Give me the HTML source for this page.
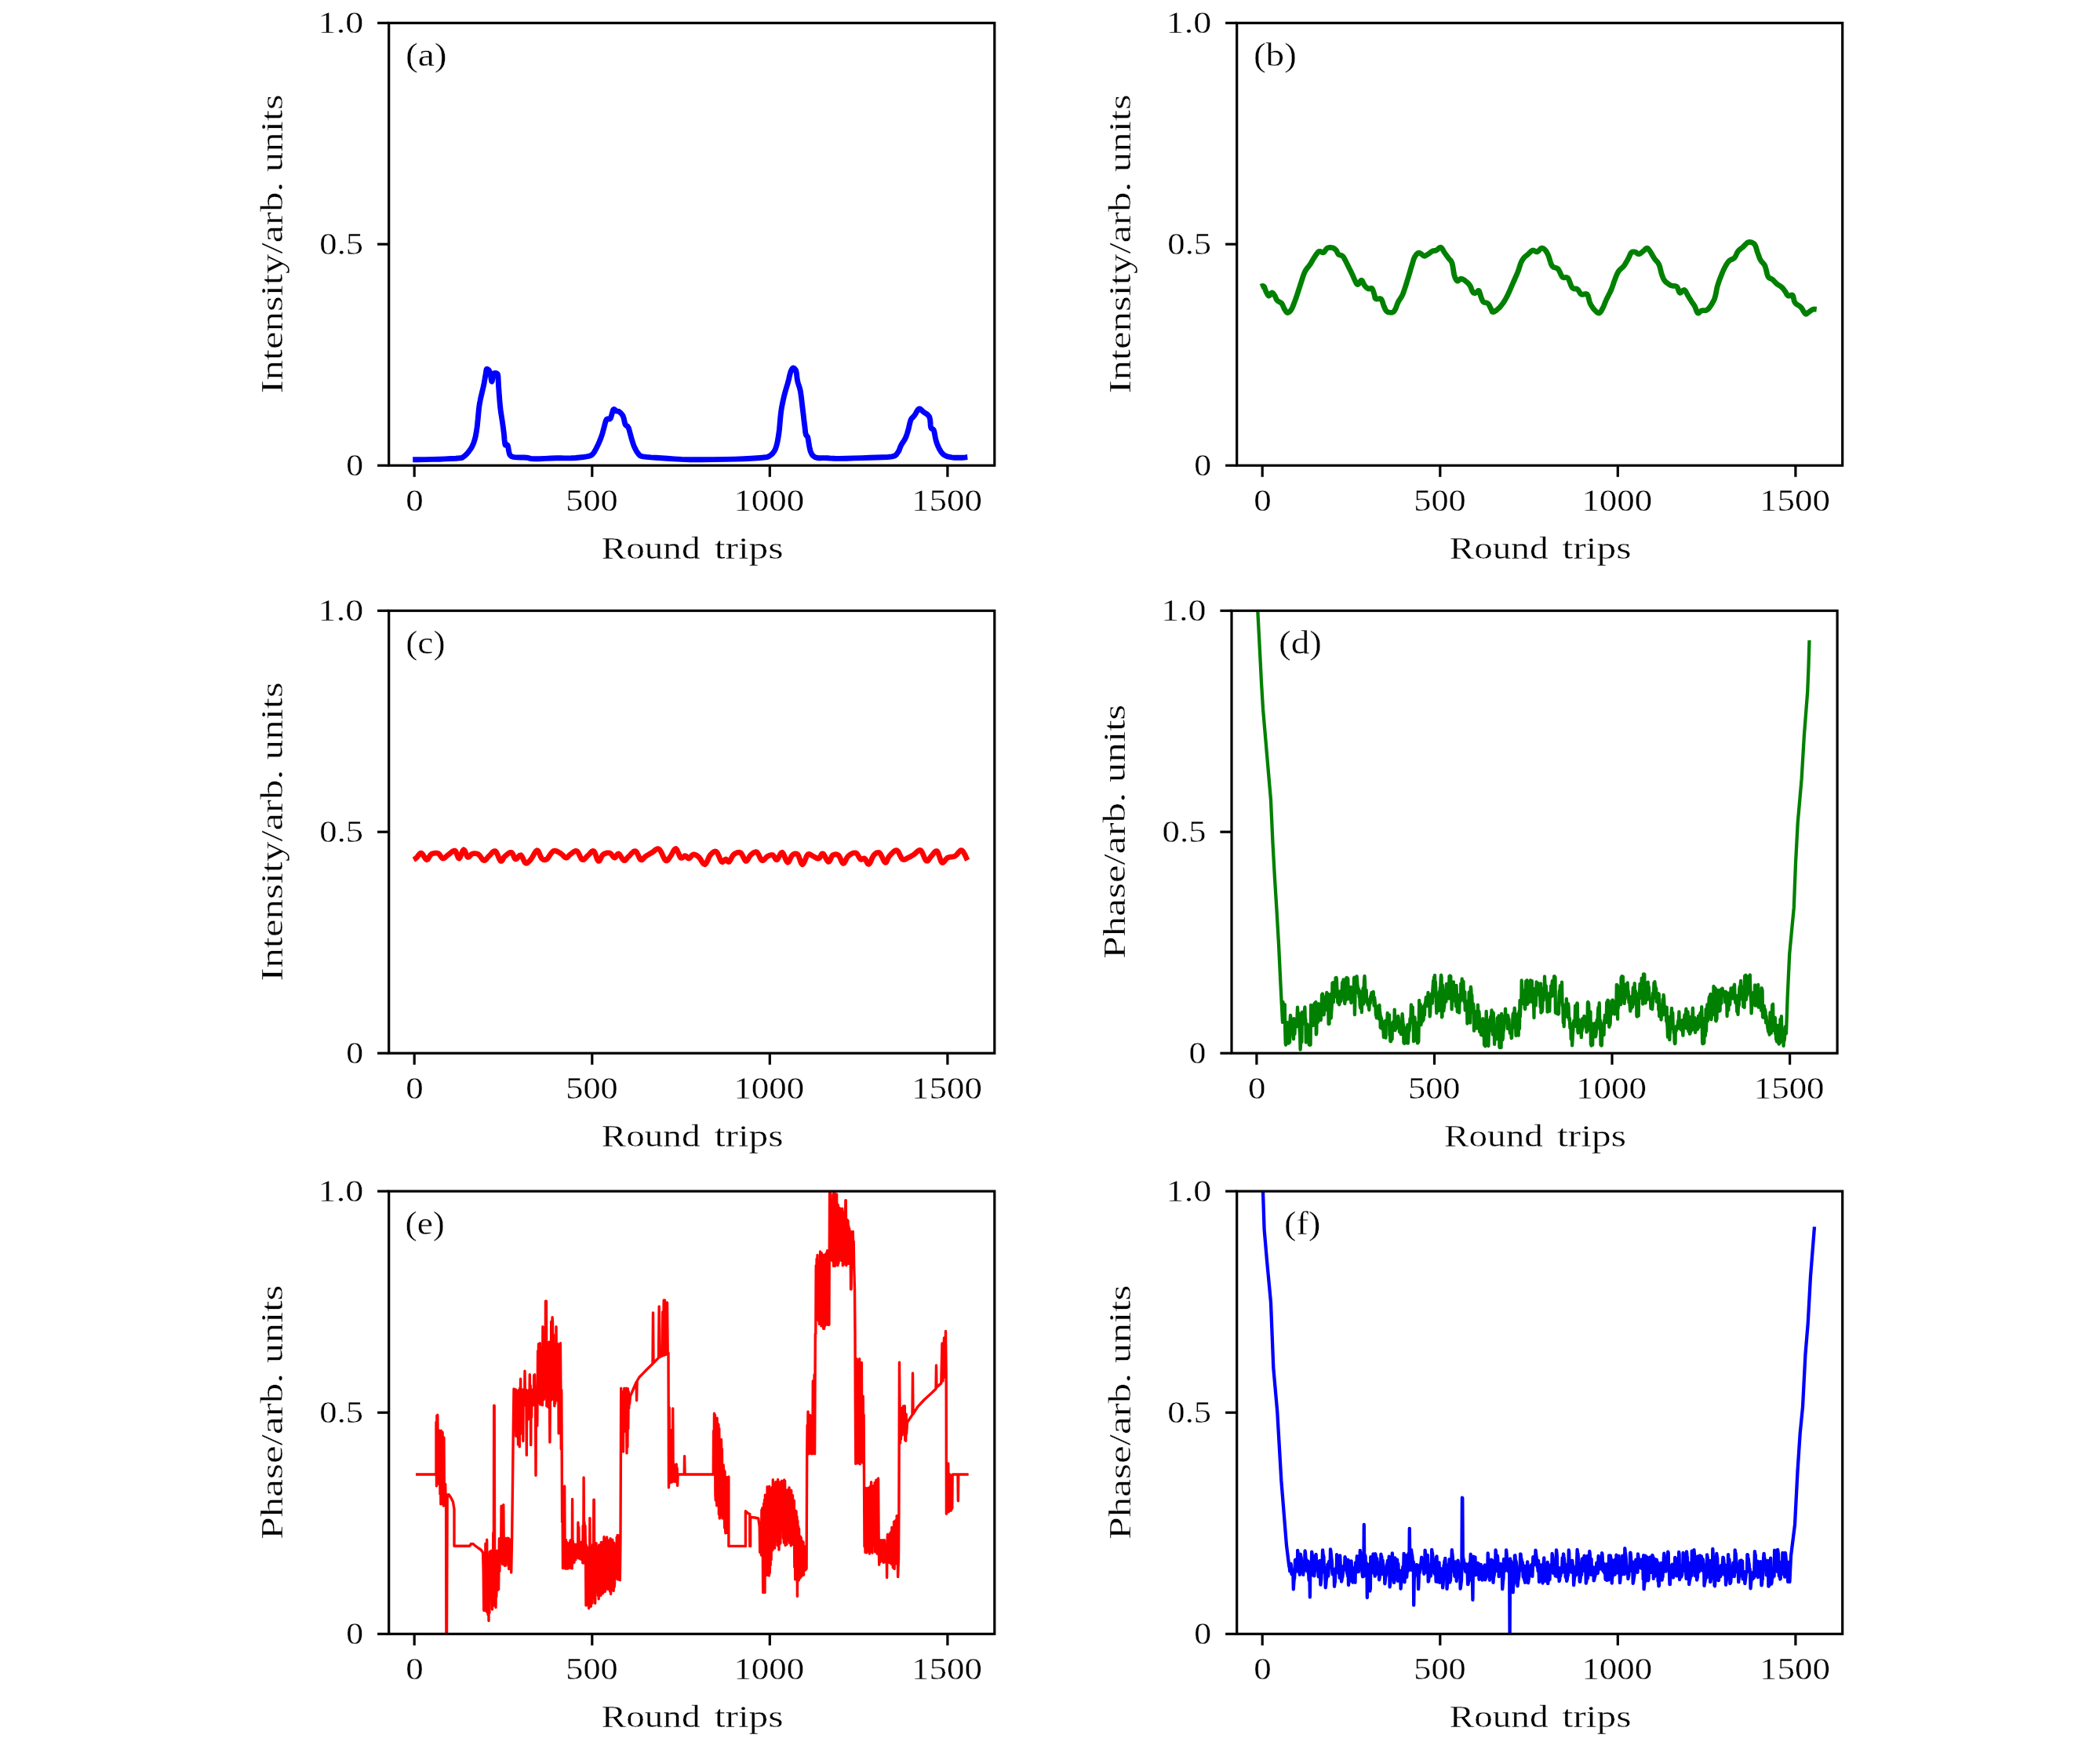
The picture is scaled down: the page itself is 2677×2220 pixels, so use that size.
<!DOCTYPE html>
<html><head><meta charset="utf-8"><style>
html,body{margin:0;padding:0;background:#fff;}
svg{display:block;will-change:transform;}
text{font-family:"Liberation Serif",serif;stroke:#fff;stroke-width:0.35px;paint-order:normal;}
</style></head><body>
<svg width="2677" height="2220" viewBox="0 0 2677 2220">
<rect width="2677" height="2220" fill="#fff"/>
<defs>
<clipPath id="cla"><rect x="495.7" y="29.3" width="772.1" height="563.9"/></clipPath>
<clipPath id="clb"><rect x="1576.7" y="29.3" width="772" height="563.9"/></clipPath>
<clipPath id="clc"><rect x="495.7" y="778.3" width="772.1" height="563.9"/></clipPath>
<clipPath id="cld"><rect x="1570" y="778.3" width="772.1" height="563.9"/></clipPath>
<clipPath id="cle"><rect x="495.7" y="1518.1" width="772.1" height="564.2"/></clipPath>
<clipPath id="clf"><rect x="1576.7" y="1518.1" width="772" height="564.2"/></clipPath>
</defs>
<path d="M526.2 585.8 L532.5 585.7 L541.5 585.6 L551.3 585.4 L560 585.2 L567.5 584.9 L574.7 584.5 L581 584.2 L585.7 583.8 L588.3 583.5 L589.2 583.3 L589.4 583.1 L590 582.6 L591.1 581.9 L592.3 581 L593.4 580.1 L594.5 579 L595.6 577.8 L596.6 576.6 L597.6 575.3 L598.6 574 L599.5 572.8 L600.3 571.6 L601 570.4 L601.8 569 L602.5 567.4 L603.3 565.7 L604 563.9 L604.6 562 L605.2 560.1 L605.7 558.1 L606.2 556.1 L606.6 554 L607 551.9 L607.4 549.7 L607.7 547.4 L608.1 544.7 L608.5 541.5 L608.8 538 L609.2 534.4 L609.5 531 L609.8 527.8 L610.1 524.7 L610.4 521.7 L610.7 518.9 L611.1 516.2 L611.5 513.6 L612 511.2 L612.4 509 L612.8 507.1 L613.2 505.4 L613.6 503.7 L614.1 501.7 L614.7 499.1 L615.4 496.2 L616.1 493.2 L616.7 490.5 L617.2 488.1 L617.5 485.9 L617.9 483.9 L618.2 482 L618.5 480.3 L618.8 478.7 L619.1 477.2 L619.3 475.8 L619.5 474.3 L619.7 472.9 L619.9 471.6 L620.1 470.7 L620.4 470.3 L620.7 470.2 L621.1 470.3 L621.5 470.5 L622 470.8 L622.5 471.2 L623.1 471.7 L623.6 472.4 L624 473.3 L624.5 474.4 L624.8 475.6 L625.2 477 L625.5 478.7 L625.8 480.6 L626.1 482.5 L626.3 484 L626.5 485 L626.7 485.7 L626.8 486.1 L627 486.2 L627.2 485.8 L627.4 485 L627.6 484.1 L627.8 483 L628 481.8 L628.2 480.4 L628.4 479.1 L628.6 478 L628.8 477.2 L629 476.6 L629.3 476.2 L629.6 475.8 L630 475.6 L630.5 475.5 L631 475.5 L631.5 475.5 L631.9 475.5 L632.3 475.5 L632.7 475.6 L633.1 475.8 L633.5 476 L633.9 476.3 L634.3 476.7 L634.6 477.6 L634.8 479 L635 480.9 L635.1 483 L635.2 485 L635.3 486.7 L635.4 488.4 L635.4 490.3 L635.6 493 L635.9 496.8 L636.2 501.3 L636.6 506.1 L636.9 510.3 L637.2 513.7 L637.5 516.8 L637.8 519.8 L638.2 523.2 L638.8 527.3 L639.5 531.8 L640.2 536.3 L640.8 540.4 L641.3 543.9 L641.7 547.2 L642.1 550.3 L642.5 553.4 L642.8 556.9 L643.1 560.6 L643.5 563.9 L643.8 566.3 L644.2 567.3 L644.6 567.3 L645.1 567 L645.5 566.8 L645.9 566.8 L646.2 566.7 L646.5 566.8 L646.8 567 L647.1 567.5 L647.3 568.2 L647.6 569.1 L647.8 570 L648 571.1 L648.2 572.3 L648.3 573.6 L648.6 574.9 L648.9 576.2 L649.2 577.6 L649.6 579 L650.3 580.1 L651.1 581 L652 581.6 L653.4 582.2 L655.5 582.6 L658.9 582.9 L663.2 583 L667.6 583 L671.4 583.2 L673.8 583.6 L675.4 584.1 L677.4 584.6 L681 584.8 L687 584.7 L694.7 584.4 L702.6 584 L709.5 583.8 L714.9 583.8 L719.6 583.9 L724.1 583.9 L728.6 583.8 L733.6 583.5 L738.8 583 L743.7 582.5 L747.6 581.9 L750.3 581.4 L752.2 580.9 L753.7 580.2 L755.2 579 L756.8 577.2 L758.2 574.9 L759.6 572.3 L761 569.5 L762.5 566.4 L764 563.1 L765.4 559.6 L766.7 556.2 L767.8 552.8 L768.8 549.3 L769.7 545.9 L770.5 542.9 L771.2 540.2 L771.8 537.8 L772.5 535.8 L773.3 534.3 L774.4 533.8 L775.6 534 L776.9 534.1 L778.1 533.3 L779.1 530.9 L780.1 527.4 L781 524.1 L781.9 521.9 L782.9 521.5 L783.8 522.1 L784.7 523.1 L785.7 523.8 L786.6 524 L787.5 524.1 L788.5 524.2 L789.5 524.8 L790.7 525.8 L792 527.1 L793.2 528.6 L794.3 530.5 L795.1 532.9 L795.8 535.9 L796.4 538.7 L797.1 541 L798 542.2 L799 542.7 L800 543.3 L801 544.8 L802 547.5 L802.9 551 L803.9 554.7 L804.8 558.1 L805.7 561.1 L806.6 564 L807.5 566.8 L808.6 569.5 L809.9 572.2 L811.3 574.8 L812.8 577.1 L814.3 579 L815.3 580.2 L816.1 580.9 L817.4 581.4 L820 581.9 L824.2 582.4 L829.5 582.9 L835.8 583.3 L842.9 583.8 L850.7 584.3 L859.3 584.9 L869 585.4 L880 585.7 L893.4 585.8 L908.7 585.6 L924 585.4 L937.1 585.1 L947.9 584.7 L957.2 584.2 L965.1 583.7 L971.4 583.2 L975.6 582.8 L977.9 582.5 L979.3 582 L981 581 L983.1 579.5 L985 577.7 L986.8 575.3 L988.4 572.3 L989.7 568.5 L990.9 563.9 L991.8 558.9 L992.7 553.4 L993.5 547.2 L994.1 540.2 L994.7 533.4 L995.3 527.5 L995.9 522.9 L996.5 519 L997.2 515.5 L997.9 512 L998.7 508.4 L999.5 504.9 L1000.4 501.5 L1001.3 498.2 L1002.2 495.1 L1003.1 492.1 L1004 489.2 L1004.8 486.2 L1005.6 483 L1006.3 479.7 L1007.1 476.6 L1007.8 474.1 L1008.6 472.2 L1009.3 470.7 L1010.1 469.6 L1010.8 469 L1011.5 468.9 L1012.2 469.2 L1012.9 469.8 L1013.5 470.5 L1014 471.1 L1014.4 471.6 L1014.7 472.6 L1015.1 474.1 L1015.5 476.5 L1015.8 479.6 L1016.2 483 L1016.8 486.2 L1017.6 489 L1018.5 491.7 L1019.4 494.6 L1020.3 498.2 L1021 502.7 L1021.7 508 L1022.3 513.5 L1022.9 518.9 L1023.6 524.4 L1024.3 530.1 L1024.9 535.6 L1025.5 540.4 L1026 544.5 L1026.4 548 L1026.7 551 L1027.2 553.4 L1027.8 554.8 L1028.4 555.5 L1029.1 556.1 L1029.8 557.7 L1030.4 560.8 L1031 564.8 L1031.7 568.9 L1032.4 572.3 L1033.1 574.8 L1033.9 576.9 L1034.7 578.6 L1035.8 580.1 L1037 581.3 L1038.4 582.3 L1040 583 L1041.8 583.5 L1043.7 583.7 L1045.8 583.7 L1048.2 583.6 L1051.4 583.6 L1055.1 583.8 L1059.2 584.1 L1064.2 584.3 L1070.5 584.4 L1078.9 584.2 L1089 583.9 L1099.3 583.6 L1108.6 583.2 L1116.9 583 L1124.8 582.8 L1131.7 582.5 L1137.1 581.9 L1140.6 580.9 L1142.5 579.5 L1143.6 577.9 L1144.8 576.2 L1146 574.3 L1146.8 572.1 L1147.6 569.9 L1148.6 567.6 L1149.9 565.3 L1151.5 563 L1153 560.6 L1154.3 558.1 L1155.4 555.4 L1156.4 552.5 L1157.3 549.6 L1158.1 546.7 L1158.8 543.7 L1159.5 540.6 L1160.2 537.7 L1161 535.2 L1162 533.4 L1163.2 532.2 L1164.4 531 L1165.7 529.5 L1167.1 527.3 L1168.5 524.7 L1170 522.3 L1171.4 521 L1172.8 521 L1174.1 522 L1175.5 523.4 L1177.1 524.8 L1179 526.1 L1181.2 527.5 L1183.2 529.2 L1184.8 531.4 L1185.6 534.5 L1186 538.3 L1186.2 542 L1186.7 544.8 L1187.5 546.2 L1188.5 546.7 L1189.6 547.2 L1190.5 548.6 L1191.2 551.3 L1191.8 554.8 L1192.5 558.5 L1193.3 561.9 L1194.3 565 L1195.5 568 L1196.8 570.8 L1198.1 573.3 L1199.4 575.4 L1200.7 577.2 L1202.1 578.7 L1203.8 580 L1205.8 581.1 L1208.1 581.9 L1210.6 582.4 L1213.3 582.9 L1216.5 583.2 L1220.2 583.3 L1223.7 583.3 L1226.7 583.2 L1229 583.1 L1230.8 582.9 L1232.3 582.6 L1233.3 582.5" fill="none" stroke="#0000ff" stroke-width="6.9" stroke-linejoin="round" stroke-linecap="butt" clip-path="url(#cla)"/>
<path d="M1607.1 365.3 L1607.8 365 L1608.9 364.6 L1610 364.4 L1611 364.8 L1611.8 366 L1612.4 367.7 L1613.1 369.6 L1613.8 371.4 L1614.7 373.1 L1615.6 374.9 L1616.6 376.4 L1617.6 377.1 L1618.5 376.6 L1619.5 375.1 L1620.5 373.7 L1621.4 373 L1622.4 373.4 L1623.4 374.4 L1624.3 375.8 L1625.2 377.1 L1625.9 378.5 L1626.5 380 L1627.2 381.6 L1628.1 382.9 L1629.4 383.9 L1630.9 384.7 L1632.4 385.5 L1633.8 386.7 L1634.9 388.4 L1635.8 390.5 L1636.7 392.6 L1637.6 394.3 L1638.5 395.8 L1639.4 397.1 L1640.4 398.1 L1641.4 398.5 L1642.5 398.2 L1643.7 397.4 L1645 396.1 L1646.2 394.3 L1647.4 392.1 L1648.5 389.4 L1649.7 386.3 L1651 382.9 L1652.4 379 L1653.8 374.7 L1655.3 370.1 L1656.7 365.7 L1658.2 361.2 L1659.7 356.5 L1661.1 352.1 L1662.4 348.6 L1663.5 346.1 L1664.4 344.5 L1665.3 343.2 L1666.2 341.9 L1667.1 340.7 L1668 339.7 L1668.9 338.6 L1670 337.1 L1671.3 335 L1672.7 332.5 L1674.2 329.9 L1675.7 327.6 L1677.1 325.4 L1678.6 323.3 L1680 321.5 L1681.4 320.4 L1682.8 320.3 L1684.3 321.1 L1685.7 321.8 L1687.1 321.9 L1688.3 320.9 L1689.4 319.2 L1690.6 317.4 L1691.9 316.2 L1693.5 315.6 L1695.3 315.4 L1697 315.5 L1698.6 315.8 L1700 316.3 L1701.2 317 L1702.3 318 L1703.3 319 L1704.1 320.2 L1704.7 321.6 L1705.3 323 L1706.2 324.2 L1707.4 324.9 L1708.9 325.2 L1710.5 325.7 L1711.9 326.7 L1713.1 328.3 L1714.2 330.3 L1715.4 332.6 L1716.7 335.2 L1718.2 338.2 L1719.9 341.7 L1721.7 345.2 L1723.3 348.6 L1724.9 352 L1726.4 355.6 L1727.8 358.7 L1729 361 L1729.9 362.2 L1730.6 362.5 L1731.2 362.3 L1731.9 361.9 L1732.8 360.8 L1733.7 359.1 L1734.7 357.6 L1735.7 357.1 L1736.6 358 L1737.5 359.9 L1738.5 362 L1739.5 363.8 L1740.6 365.1 L1741.8 366.3 L1743.1 367.3 L1744.3 368 L1745.5 368 L1746.8 367.6 L1748 367.2 L1749 367.6 L1749.9 369 L1750.6 371 L1751.3 373.2 L1751.9 375.2 L1752.3 376.9 L1752.6 378.6 L1753 380 L1753.8 381 L1755.2 381.2 L1757 380.8 L1758.9 380.5 L1760.5 381 L1761.7 382.8 L1762.6 385.3 L1763.4 388.1 L1764.3 390.5 L1765.2 392.5 L1766 394.3 L1766.9 395.9 L1768.1 397.1 L1769.6 397.9 L1771.5 398.2 L1773.3 398.3 L1774.8 398.1 L1776 397.6 L1776.9 396.9 L1777.7 395.8 L1778.6 394.3 L1779.5 392.3 L1780.4 389.9 L1781.3 387.3 L1782.4 384.8 L1783.7 382.6 L1785.1 380.5 L1786.6 378.1 L1788.1 375.2 L1789.5 371.5 L1790.9 367.2 L1792.4 362.7 L1793.8 358.1 L1795.3 353.3 L1796.8 348.2 L1798.2 343.3 L1799.5 339 L1800.6 335.5 L1801.5 332.4 L1802.3 329.8 L1803.3 327.6 L1804.5 325.7 L1805.7 324.1 L1806.9 323 L1808.1 322.3 L1809.1 322.2 L1810.1 322.6 L1811 323.2 L1811.9 323.8 L1812.8 324.5 L1813.7 325.3 L1814.7 326 L1815.7 326.3 L1816.8 326.1 L1818 325.4 L1819.2 324.6 L1820.5 323.8 L1821.9 322.9 L1823.4 321.8 L1824.8 320.8 L1826.2 320 L1827.4 319.6 L1828.6 319.5 L1829.8 319.4 L1831 319 L1832.4 318 L1833.9 316.6 L1835.3 315.5 L1836.7 315.2 L1837.9 316.1 L1839.1 317.9 L1840.2 320 L1841.4 321.9 L1842.6 323.6 L1843.8 325.3 L1845 326.9 L1846.2 328.6 L1847.4 330.1 L1848.7 331.4 L1849.9 332.9 L1851 335.2 L1851.8 338.6 L1852.5 342.8 L1853.1 347 L1853.8 350.5 L1854.7 353.2 L1855.6 355.4 L1856.6 357.1 L1857.6 358.1 L1858.7 358 L1859.9 356.9 L1861.1 355.8 L1862.4 355.2 L1863.8 355.5 L1865.2 356.1 L1866.7 357 L1868.1 358.1 L1869.6 359.3 L1871.1 360.6 L1872.5 362.1 L1873.8 363.8 L1874.9 365.9 L1875.8 368.4 L1876.7 370.7 L1877.6 372.4 L1878.5 373.3 L1879.5 373.6 L1880.5 373.5 L1881.4 373.3 L1882.4 372.6 L1883.4 371.4 L1884.3 370.5 L1885.2 370.5 L1886 371.9 L1886.7 374.2 L1887.4 376.8 L1888.1 379 L1888.8 380.7 L1889.4 382.3 L1890.1 383.7 L1891 384.8 L1892.3 385.4 L1893.8 385.7 L1895.3 386 L1896.7 386.7 L1897.8 388.1 L1898.8 389.8 L1899.7 391.7 L1900.5 393.3 L1901.2 394.8 L1901.7 396.2 L1902.3 397.3 L1903.3 397.7 L1904.7 397.3 L1906.5 396.2 L1908.3 394.8 L1910 393.3 L1911.5 391.9 L1912.9 390.3 L1914.3 388.6 L1915.7 386.7 L1917.1 384.7 L1918.4 382.6 L1919.8 380.1 L1921.4 377.1 L1923.2 373.3 L1925.2 368.8 L1927.2 364.2 L1929 360 L1930.6 356.5 L1932 353.2 L1933.4 350.1 L1934.8 346.7 L1936.2 342.8 L1937.5 338.7 L1938.9 334.7 L1940.5 331.4 L1942.3 328.9 L1944.3 326.9 L1946.3 325.3 L1948.1 323.8 L1949.7 322.2 L1951.1 320.8 L1952.4 319.7 L1953.8 319 L1955.2 319.2 L1956.7 320 L1958.1 320.8 L1959.5 321 L1960.9 320.1 L1962.4 318.5 L1963.8 317 L1965.2 316.2 L1966.5 316.3 L1967.7 316.9 L1968.9 317.8 L1970 319 L1971 320.2 L1971.9 321.7 L1972.8 323.5 L1973.8 325.7 L1974.9 328.8 L1976 332.5 L1977.2 336.2 L1978.6 339 L1980.3 340.5 L1982.3 341.1 L1984.4 341.7 L1986.2 342.9 L1987.7 345.3 L1989.1 348.3 L1990.4 351.2 L1991.9 353.3 L1993.5 353.9 L1995.2 353.7 L1997 353.5 L1998.6 354.3 L2000.1 356.8 L2001.4 360.4 L2002.8 364.1 L2004.3 366.7 L2006 367.8 L2007.7 368 L2009.4 368 L2011 368.6 L2012.2 370.1 L2013.3 372 L2014.4 373.9 L2015.7 375.2 L2017.5 375.4 L2019.6 374.9 L2021.6 374.5 L2023.3 375.2 L2024.5 377.3 L2025.3 380.4 L2026.1 383.8 L2027.1 386.7 L2028.4 389.1 L2029.9 391.4 L2031.4 393.5 L2032.9 395.2 L2034.4 396.7 L2035.8 398 L2037.2 398.9 L2038.6 399 L2039.8 398.2 L2041 396.7 L2042.1 394.6 L2043.3 392.4 L2044.5 389.9 L2045.6 387 L2046.8 384 L2048.1 381 L2049.5 378.2 L2050.9 375.4 L2052.4 372.5 L2053.8 369.5 L2055.1 366.2 L2056.3 362.8 L2057.4 359.4 L2058.6 356.2 L2059.7 353.3 L2060.8 350.5 L2062 348 L2063.3 345.7 L2064.9 343.8 L2066.6 342.3 L2068.3 340.8 L2070 339 L2071.5 336.8 L2073 334.3 L2074.4 331.8 L2075.7 329.5 L2076.8 327.3 L2077.7 325.2 L2078.5 323.3 L2079.5 321.9 L2080.6 321.1 L2081.8 320.8 L2083.1 320.8 L2084.3 321 L2085.5 321.6 L2086.6 322.6 L2087.8 323.5 L2089 323.8 L2090.4 323.3 L2091.9 322.3 L2093.4 321.1 L2094.8 320 L2096.1 318.9 L2097.3 317.6 L2098.4 316.6 L2099.5 316.2 L2100.5 316.5 L2101.3 317.3 L2102.2 318.5 L2103.3 320 L2104.6 322 L2106 324.5 L2107.5 327.1 L2109 329.5 L2110.5 331.4 L2112 333.1 L2113.5 334.8 L2114.8 337.1 L2115.9 340.2 L2116.8 343.8 L2117.7 347.4 L2118.6 350.5 L2119.5 352.9 L2120.3 354.8 L2121.2 356.5 L2122.4 358.1 L2124 359.8 L2126 361.3 L2128 362.7 L2130 363.8 L2132 364.3 L2134 364.4 L2136 364.6 L2137.6 365.3 L2138.8 367.1 L2139.6 369.6 L2140.4 372 L2141.4 373.3 L2142.7 372.9 L2144.2 371.4 L2145.7 369.9 L2147.1 369.5 L2148.4 370.6 L2149.6 372.6 L2150.7 374.9 L2151.9 377.1 L2153.1 379.1 L2154.4 381.1 L2155.6 383 L2156.7 384.8 L2157.7 386.3 L2158.7 387.6 L2159.6 388.9 L2160.5 390.5 L2161.4 392.7 L2162.3 395.3 L2163.3 397.6 L2164.3 399 L2165.4 399 L2166.5 398 L2167.7 396.7 L2169 395.8 L2170.6 395.6 L2172.3 395.7 L2174 395.7 L2175.7 395.2 L2177.2 394 L2178.7 392.5 L2180.1 390.6 L2181.4 388.6 L2182.7 386.5 L2184 384.2 L2185.2 381.7 L2186.2 379 L2187 375.9 L2187.7 372.5 L2188.3 369 L2189 365.7 L2189.9 362.8 L2190.8 360 L2191.8 357.2 L2192.9 354.3 L2194.2 351 L2195.6 347.5 L2197.1 344 L2198.6 341 L2200 338.4 L2201.4 336.1 L2202.8 334.1 L2204.3 332.4 L2206 331.2 L2207.7 330.5 L2209.4 329.8 L2211 328.6 L2212.3 326.7 L2213.4 324.4 L2214.5 322 L2215.7 320 L2217 318.6 L2218.4 317.5 L2219.8 316.4 L2221.4 315.2 L2223.2 313.5 L2225.1 311.4 L2227 309.6 L2229 308.6 L2231 308.5 L2233.1 308.9 L2235 309.9 L2236.7 311.4 L2237.9 313.5 L2238.8 316.2 L2239.6 319.2 L2240.5 321.9 L2241.4 324.4 L2242.3 326.8 L2243.2 329.2 L2244.3 331.4 L2245.6 333.3 L2247.2 335 L2248.7 336.7 L2250 339 L2251 342.2 L2251.9 345.9 L2252.8 349.6 L2253.8 352.4 L2255.1 354 L2256.5 354.8 L2258 355.3 L2259.5 356.2 L2260.9 357.5 L2262.3 359 L2263.8 360.6 L2265.2 361.9 L2266.7 362.9 L2268.2 363.8 L2269.6 364.7 L2271 365.7 L2272.3 367 L2273.5 368.4 L2274.6 369.9 L2275.7 371.4 L2276.7 373 L2277.5 374.7 L2278.4 376.1 L2279.5 377.1 L2280.9 377.1 L2282.4 376.4 L2283.9 375.8 L2285.2 376.2 L2286 377.9 L2286.5 380.5 L2287.1 383.3 L2288.1 385.7 L2289.7 387.3 L2291.7 388.6 L2293.8 389.9 L2295.7 391.4 L2297.3 393.6 L2298.8 396.2 L2300.2 398.5 L2301.4 400 L2302.4 400.3 L2303.3 399.8 L2304.2 399 L2305.2 398.1 L2306.5 397.2 L2308 396.1 L2309.6 395 L2311 394.3 L2312.4 394 L2313.7 394.1 L2314.9 394.2 L2315.7 394.3" fill="none" stroke="#008000" stroke-width="6.8" stroke-linejoin="round" stroke-linecap="butt" clip-path="url(#clb)"/>
<path d="M527.3 1095.7 L527.8 1095.4 L528.4 1095 L529.2 1094.4 L530 1093.8 L531 1093 L532.1 1091.8 L533.2 1090.2 L534.5 1088.6 L535.8 1087.4 L537.1 1087.1 L538.4 1088.1 L539.8 1090.3 L541.3 1092.7 L542.7 1094.8 L544 1095.7 L545.2 1095.2 L546.3 1093.6 L547.5 1091.6 L548.6 1089.7 L550 1088.4 L551.6 1087.7 L553.4 1087.3 L555.2 1087.1 L557 1087.2 L558.6 1087.6 L560 1088.6 L561.1 1090.2 L562.3 1091.9 L563.4 1093.3 L564.6 1094 L565.9 1093.8 L567.2 1092.9 L568.5 1091.7 L569.9 1090.4 L571.4 1089.3 L573.1 1088.1 L574.9 1086.5 L576.7 1085.1 L578.5 1084.2 L580 1084.1 L581.2 1085.4 L582.2 1088 L583.2 1090.8 L584.1 1093.1 L585.1 1094 L586.3 1092.8 L587.5 1090.1 L588.7 1086.9 L589.9 1084.1 L591.1 1082.9 L592.2 1083.7 L593.2 1085.8 L594.2 1088.5 L595.2 1091 L596.3 1092.3 L597.4 1092.2 L598.6 1091.3 L599.7 1090 L601 1088.7 L602.3 1088 L603.7 1087.7 L605.3 1087.7 L606.9 1087.8 L608.5 1088.2 L610 1088.9 L611.4 1090.2 L612.8 1092.1 L614.2 1094.2 L615.5 1095.8 L616.9 1096.6 L618.3 1096.3 L619.6 1095.2 L620.9 1093.7 L622.3 1092 L623.7 1090.6 L625.2 1089.1 L626.8 1087.3 L628.3 1085.6 L629.9 1084.6 L631.4 1084.6 L632.9 1086.3 L634.3 1089.3 L635.7 1092.7 L637 1095.7 L638.3 1097.4 L639.4 1097.4 L640.3 1096.3 L641.2 1094.6 L642.2 1092.8 L643.4 1091.4 L645 1090.1 L646.8 1088.6 L648.6 1087.3 L650.4 1086.4 L652 1086.3 L653.2 1087.4 L654.2 1089.4 L655.1 1091.8 L656 1093.8 L657.1 1094.9 L658.4 1094.5 L659.8 1093.1 L661.2 1091.3 L662.6 1090 L664 1089.7 L665.2 1091 L666.4 1093.4 L667.6 1096.2 L668.8 1098.7 L670 1100 L671.3 1100.1 L672.7 1099.4 L674 1098.1 L675.5 1096.6 L676.9 1094.9 L678.4 1092.7 L680 1089.8 L681.6 1086.9 L683.2 1084.7 L684.6 1083.7 L685.9 1084.5 L687.1 1086.7 L688.3 1089.5 L689.4 1092.2 L690.6 1094 L691.8 1095 L693 1095.6 L694.2 1095.8 L695.5 1095.6 L696.9 1094.9 L698.5 1093.4 L700.1 1091 L701.9 1088.3 L703.7 1086 L705.4 1084.6 L707.1 1084.2 L708.9 1084.5 L710.6 1085.2 L712.3 1086.2 L714 1087.1 L715.6 1088.2 L717.3 1089.7 L718.8 1091.3 L720.3 1092.5 L721.7 1093.1 L722.8 1092.9 L723.8 1092.2 L724.7 1091.1 L725.7 1089.9 L726.9 1088.9 L728.4 1087.8 L730.1 1086.4 L732 1085.2 L733.7 1084.5 L735.4 1084.6 L736.9 1086.1 L738.2 1088.8 L739.6 1091.8 L740.9 1094.3 L742.3 1095.7 L743.8 1095.6 L745.4 1094.5 L746.9 1092.9 L748.5 1091.1 L750 1089.7 L751.4 1088.3 L752.9 1086.7 L754.2 1085.3 L755.6 1084.5 L756.9 1084.6 L758.2 1086.4 L759.4 1089.5 L760.5 1093 L761.7 1095.9 L762.9 1097.4 L764.1 1097 L765.2 1095.2 L766.3 1092.8 L767.5 1090.5 L768.9 1088.9 L770.5 1088 L772.2 1087.3 L774.1 1086.9 L775.8 1086.9 L777.4 1087.1 L778.8 1088 L780 1089.5 L781.2 1091.1 L782.3 1092.5 L783.4 1093.1 L784.5 1092.6 L785.5 1091.2 L786.4 1089.6 L787.5 1088.3 L788.6 1088 L789.9 1089.1 L791.2 1091.1 L792.7 1093.5 L794.1 1095.5 L795.4 1096.6 L796.6 1096.5 L797.7 1095.6 L798.9 1094.3 L800 1092.8 L801.4 1091.4 L803 1089.9 L804.7 1087.9 L806.6 1086.1 L808.3 1084.8 L810 1084.6 L811.5 1085.9 L812.9 1088.5 L814.3 1091.5 L815.6 1094.2 L816.9 1095.7 L818.1 1095.8 L819.2 1095.1 L820.4 1093.9 L821.6 1092.6 L822.9 1091.4 L824.4 1090.4 L826.1 1089.4 L827.9 1088.3 L829.7 1087.3 L831.4 1086.3 L833.1 1085.1 L834.8 1083.6 L836.6 1082.3 L838.3 1081.6 L840 1082 L841.8 1084 L843.6 1087.4 L845.3 1091.3 L847 1094.6 L848.6 1096.6 L850 1096.9 L851.1 1096.2 L852.3 1094.8 L853.4 1093.1 L854.6 1091.4 L855.9 1089.4 L857.3 1086.7 L858.7 1084.1 L860.2 1082.2 L861.5 1081.5 L862.8 1082.7 L864 1085.3 L865.3 1088.4 L866.5 1091.3 L867.7 1093.1 L868.9 1093.4 L870.2 1092.8 L871.4 1091.9 L872.6 1090.9 L873.7 1090.6 L874.6 1091 L875.5 1091.9 L876.2 1093 L877.1 1093.8 L878 1094 L879.1 1093.4 L880.2 1092.2 L881.5 1090.7 L882.7 1089.5 L884 1088.9 L885.3 1088.9 L886.7 1089.4 L888 1090.1 L889.5 1091.1 L890.9 1092.3 L892.4 1094.1 L894 1096.7 L895.5 1099.2 L897.1 1101.1 L898.6 1101.7 L900 1100.5 L901.3 1098.1 L902.7 1095 L904 1091.9 L905.4 1089.7 L906.9 1088.1 L908.5 1086.6 L910 1085.5 L911.6 1085 L913.1 1085.4 L914.6 1087.1 L916 1090.1 L917.4 1093.5 L918.7 1096.5 L920 1098.3 L921.1 1098.6 L922.2 1097.8 L923.2 1096.6 L924.2 1095.4 L925.1 1094.9 L926 1095.3 L926.8 1096.4 L927.6 1097.5 L928.4 1098.3 L929.4 1098.3 L930.4 1097.1 L931.6 1095.1 L932.7 1092.8 L934 1090.5 L935.4 1088.9 L937 1087.8 L938.7 1086.9 L940.6 1086.3 L942.3 1086.2 L944 1086.7 L945.5 1088.3 L946.9 1090.9 L948.3 1093.8 L949.6 1096.2 L950.9 1097.4 L952.1 1097 L953.3 1095.5 L954.4 1093.4 L955.6 1091.3 L956.9 1089.7 L958.3 1088.5 L959.9 1087.2 L961.5 1086.2 L963.1 1085.7 L964.6 1085.9 L966 1087.4 L967.4 1089.9 L968.7 1092.8 L970 1095.2 L971.4 1096.6 L972.8 1096.5 L974.2 1095.5 L975.5 1094 L976.9 1092.5 L978.3 1091.4 L979.7 1090.7 L981.1 1090.1 L982.5 1089.7 L983.8 1089.5 L985.1 1089.7 L986.2 1090.7 L987.2 1092.3 L988.2 1094 L989.2 1095.4 L990.3 1095.7 L991.6 1094.5 L992.9 1092 L994.3 1089.2 L995.7 1087 L997.1 1086.3 L998.5 1087.8 L999.9 1090.9 L1001.3 1094.5 L1002.7 1097.6 L1004 1099.1 L1005.2 1098.5 L1006.4 1096.5 L1007.6 1093.9 L1008.8 1091.4 L1010 1089.7 L1011.3 1088.8 L1012.7 1088.1 L1014.2 1087.8 L1015.6 1088.1 L1016.9 1088.9 L1018.1 1091 L1019.3 1094.3 L1020.5 1097.8 L1021.7 1100.6 L1022.9 1101.7 L1024.2 1100.5 L1025.6 1097.7 L1027 1094.2 L1028.3 1090.9 L1029.7 1088.9 L1031 1088.4 L1032.3 1088.6 L1033.6 1089.4 L1034.9 1090.3 L1036.3 1091 L1037.7 1091.7 L1039.3 1092.6 L1040.8 1093.5 L1042.3 1094.1 L1043.6 1094.1 L1044.8 1093.2 L1045.8 1091.5 L1046.7 1089.6 L1047.7 1088.1 L1048.9 1087.8 L1050.3 1089.1 L1051.8 1091.7 L1053.3 1094.7 L1054.8 1097.1 L1056.2 1098.3 L1057.3 1097.7 L1058.3 1095.9 L1059.3 1093.6 L1060.3 1091.3 L1061.4 1089.9 L1062.8 1089.2 L1064.3 1088.8 L1065.8 1088.7 L1067.4 1089.1 L1068.8 1089.9 L1070.1 1091.6 L1071.4 1094.3 L1072.6 1097.1 L1073.8 1099.4 L1075 1100.4 L1076.2 1099.7 L1077.4 1097.8 L1078.5 1095.3 L1079.8 1092.9 L1081.3 1091 L1083 1089.6 L1085 1088.3 L1087.1 1087.3 L1089.1 1086.8 L1090.8 1086.8 L1092.3 1087.8 L1093.6 1089.7 L1094.7 1091.8 L1095.9 1093.8 L1097 1095.1 L1098.1 1095.4 L1099.2 1095 L1100.2 1094.3 L1101.3 1093.9 L1102.3 1094.1 L1103.3 1095.3 L1104.3 1097.3 L1105.3 1099.4 L1106.4 1101 L1107.5 1101.4 L1108.7 1100.2 L1109.9 1097.8 L1111.2 1094.8 L1112.5 1092 L1113.8 1089.9 L1115.2 1088.5 L1116.6 1087.3 L1118.1 1086.5 L1119.6 1086.3 L1121.1 1086.8 L1122.6 1088.6 L1124.2 1091.7 L1125.7 1095 L1127.2 1097.9 L1128.5 1099.3 L1129.6 1099 L1130.5 1097.4 L1131.4 1095.3 L1132.4 1092.9 L1133.7 1091 L1135.3 1089.2 L1137.3 1087.1 L1139.3 1085.2 L1141.3 1083.9 L1143.1 1083.6 L1144.7 1084.9 L1146.2 1087.5 L1147.6 1090.6 L1149.1 1093.4 L1150.5 1095.1 L1152 1095.6 L1153.4 1095.3 L1154.9 1094.6 L1156.3 1093.8 L1157.8 1093 L1159.2 1092.3 L1160.7 1091.6 L1162.1 1090.7 L1163.6 1089.8 L1165.1 1088.9 L1166.7 1087.6 L1168.4 1086 L1170.2 1084.4 L1171.9 1083.5 L1173.5 1083.6 L1175.1 1085.4 L1176.6 1088.6 L1178.1 1092.3 L1179.5 1095.4 L1180.9 1097.2 L1182.2 1097.2 L1183.5 1096.2 L1184.7 1094.4 L1185.9 1092.6 L1187.2 1091 L1188.6 1089.4 L1190.1 1087.5 L1191.6 1085.7 L1193.1 1084.6 L1194.5 1084.7 L1195.8 1086.6 L1197 1090 L1198.3 1094 L1199.5 1097.4 L1200.8 1099.3 L1202.2 1099.3 L1203.5 1098.1 L1205 1096.2 L1206.5 1094.3 L1208.1 1093 L1209.9 1092.4 L1211.8 1092.1 L1213.7 1092 L1215.7 1091.7 L1217.5 1091 L1219.3 1089.5 L1221 1087.5 L1222.7 1085.4 L1224.3 1083.9 L1225.9 1083.6 L1227.5 1085 L1229.2 1087.8 L1230.9 1091.1 L1232.2 1094.2 L1233.2 1096.2" fill="none" stroke="#ff0000" stroke-width="6.8" stroke-linejoin="round" stroke-linecap="butt" clip-path="url(#clc)"/>
<path d="M1602.8 770 L1603.3 778.3 L1606 830 L1608 870 L1610 903.2 L1614 950 L1617 985 L1620 1019.8 L1622.5 1075 L1625 1119.7 L1627.5 1160 L1630 1203 L1632.5 1255 L1635 1302.9 L1635.5 1276.9 L1636 1292.8 L1636.4 1290.7 L1636.9 1280.2 L1637.3 1280.3 L1637.8 1280.2 L1638.2 1312.2 L1638.7 1329.7 L1639.1 1331.7 L1639.6 1311.7 L1640 1317.3 L1640.5 1313.7 L1640.9 1302.9 L1641.4 1304.3 L1641.8 1327.7 L1642.3 1325.9 L1642.7 1329.6 L1643.2 1327.8 L1643.6 1326.9 L1644.1 1328.1 L1644.5 1301.3 L1645 1294 L1645.4 1297.1 L1645.9 1309.8 L1646.3 1300.3 L1646.8 1316 L1647.2 1302.1 L1647.7 1317.3 L1648.1 1306.8 L1648.6 1319.5 L1649 1324.1 L1649.5 1298.2 L1649.9 1311.6 L1650.4 1317.9 L1650.8 1309.5 L1651.3 1307.8 L1651.7 1299.1 L1652.2 1299.2 L1652.6 1308.3 L1653.1 1301.6 L1653.5 1296.2 L1654 1283.7 L1654.4 1290.9 L1654.9 1303.2 L1655.3 1301.8 L1655.8 1291.4 L1656.2 1303.6 L1656.7 1313.6 L1657.1 1317.2 L1657.6 1337.6 L1658 1332.1 L1658.5 1311.4 L1658.9 1320.3 L1659.4 1328.1 L1659.8 1290 L1660.3 1303.9 L1660.7 1303.2 L1661.2 1294.2 L1661.6 1294.3 L1662.1 1302.5 L1662.5 1304.7 L1663 1287.1 L1663.4 1283.5 L1663.9 1303.2 L1664.3 1298.8 L1664.8 1328.4 L1665.2 1328.3 L1665.7 1324.7 L1666.1 1313.4 L1666.6 1305.3 L1667 1310.3 L1667.5 1312.9 L1667.9 1315.5 L1668.4 1316.1 L1668.8 1331.4 L1669.3 1330.7 L1669.7 1331.7 L1670.2 1329.9 L1670.6 1331.6 L1671.1 1281 L1671.5 1291.6 L1672 1292.2 L1672.4 1292.5 L1672.9 1294.8 L1673.3 1307.1 L1673.8 1303.8 L1674.2 1306.8 L1674.7 1302.8 L1675.1 1280 L1675.6 1280 L1676 1278.5 L1676.5 1278.8 L1676.9 1277.6 L1677.4 1276.9 L1677.8 1318.3 L1678.3 1315.9 L1678.7 1286.8 L1679.2 1294.3 L1679.6 1285.1 L1680.1 1302.8 L1680.5 1279.9 L1681 1279.4 L1681.4 1279.8 L1681.9 1283.8 L1682.3 1287.2 L1682.8 1289.9 L1683.2 1286.4 L1683.7 1300.1 L1684.1 1293.5 L1684.6 1291 L1685 1267.7 L1685.5 1267.1 L1685.9 1266.5 L1686.4 1268.8 L1686.8 1287 L1687.3 1287.5 L1687.7 1293.3 L1688.2 1283 L1688.6 1278.6 L1689.1 1287.8 L1689.5 1271.1 L1690 1273.1 L1690.4 1280.6 L1690.9 1273.9 L1691.3 1264.9 L1691.8 1266 L1692.2 1267.2 L1692.7 1277.1 L1693.1 1279.6 L1693.6 1305 L1694 1304.6 L1694.5 1304.8 L1694.9 1267.3 L1695.4 1289.6 L1695.8 1267.1 L1696.3 1274.4 L1696.7 1297.6 L1697.2 1290.1 L1697.6 1284.4 L1698.1 1275.8 L1698.5 1252.8 L1699 1252.3 L1699.4 1269.2 L1699.9 1277.2 L1700.3 1265 L1700.8 1263.9 L1701.2 1256.5 L1701.7 1270.4 L1702.1 1256.9 L1702.6 1246.2 L1703 1246.8 L1703.5 1245.9 L1703.9 1248.6 L1704.4 1261.2 L1704.8 1262.5 L1705.3 1277.7 L1705.7 1266 L1706.2 1268 L1706.6 1276.1 L1707.1 1280.3 L1707.5 1279.5 L1708 1263.3 L1708.4 1271.6 L1708.9 1264 L1709.3 1275.8 L1709.8 1263.8 L1710.2 1266.7 L1710.7 1262 L1711.1 1252 L1711.6 1256.3 L1712 1259.7 L1712.5 1248.3 L1712.9 1266 L1713.4 1259 L1713.8 1273 L1714.3 1279.2 L1714.7 1274.3 L1715.2 1266.9 L1715.6 1274.7 L1716.1 1247.1 L1716.5 1245.9 L1717 1246.8 L1717.4 1246.3 L1717.9 1246.8 L1718.3 1247.7 L1718.8 1273.2 L1719.2 1269.3 L1719.7 1260.3 L1720.1 1266.5 L1720.6 1264.6 L1721 1259.7 L1721.5 1258.2 L1721.9 1258 L1722.4 1278 L1722.8 1274.3 L1723.3 1276.5 L1723.7 1267.6 L1724.2 1265.2 L1724.6 1269.7 L1725.1 1275.3 L1725.5 1273.3 L1726 1246.6 L1726.4 1245.6 L1726.9 1293.2 L1727.3 1279.6 L1727.8 1246.3 L1728.2 1245.4 L1728.7 1246.5 L1729.1 1247.1 L1729.6 1244.2 L1730 1249.4 L1730.5 1256.1 L1730.9 1257.5 L1731.4 1265.7 L1731.8 1260.2 L1732.3 1261.1 L1732.7 1271.1 L1733.2 1269.2 L1733.6 1280.6 L1734.1 1284.1 L1734.5 1277.7 L1735 1285.3 L1735.4 1282.1 L1735.9 1290.2 L1736.3 1263.2 L1736.8 1277.6 L1737.2 1267.6 L1737.7 1259.1 L1738.1 1279.7 L1738.6 1261.1 L1739 1249.4 L1739.5 1244 L1739.9 1249.8 L1740.4 1264.8 L1740.8 1268.8 L1741.3 1267.6 L1741.7 1262 L1742.2 1277.1 L1742.6 1274.1 L1743.1 1278.2 L1743.5 1280.4 L1744 1277.7 L1744.4 1282 L1744.9 1281.1 L1745.3 1287.2 L1745.8 1276.6 L1746.2 1273.1 L1746.7 1278.7 L1747.1 1270 L1747.6 1270 L1748 1267.2 L1748.5 1265 L1748.9 1270.2 L1749.4 1273.2 L1749.8 1270.6 L1750.3 1270.7 L1750.7 1263.8 L1751.2 1274.5 L1751.6 1281.7 L1752.1 1271.1 L1752.5 1274.7 L1753 1280.1 L1753.4 1281.4 L1753.9 1293.8 L1754.3 1288.6 L1754.8 1297.4 L1755.2 1289.6 L1755.7 1291 L1756.1 1288.1 L1756.6 1286.9 L1757 1282.4 L1757.5 1293.5 L1757.9 1298.7 L1758.4 1280.9 L1758.8 1288.3 L1759.3 1290.8 L1759.7 1309.7 L1760.2 1295.1 L1760.6 1300 L1761.1 1298.1 L1761.5 1310.9 L1762 1301.4 L1762.4 1311.5 L1762.9 1308.9 L1763.3 1310.1 L1763.8 1321.9 L1764.2 1303.1 L1764.7 1315.1 L1765.1 1312.9 L1765.6 1314.2 L1766 1300.8 L1766.5 1322.6 L1766.9 1301.5 L1767.4 1305.4 L1767.8 1303.6 L1768.3 1302.7 L1768.7 1291 L1769.2 1302.7 L1769.6 1301.4 L1770.1 1303.8 L1770.5 1304.7 L1771 1293.3 L1771.4 1319.3 L1771.9 1310.7 L1772.3 1326.8 L1772.8 1327.2 L1773.2 1327 L1773.7 1312.4 L1774.1 1311 L1774.6 1324.4 L1775 1304 L1775.5 1303.6 L1775.9 1302.2 L1776.4 1310.1 L1776.8 1302.7 L1777.3 1309.8 L1777.7 1286.6 L1778.2 1306.4 L1778.6 1313 L1779.1 1304.2 L1779.5 1296.8 L1780 1303.4 L1780.4 1310.1 L1780.9 1299.9 L1781.3 1297.8 L1781.8 1303 L1782.2 1294.8 L1782.7 1297.4 L1783.1 1304.6 L1783.6 1307.9 L1784 1315.2 L1784.5 1313.8 L1784.9 1308.1 L1785.4 1306.2 L1785.8 1318 L1786.3 1316.2 L1786.7 1314.9 L1787.2 1301.1 L1787.6 1292.1 L1788.1 1298 L1788.5 1304.9 L1789 1305.6 L1789.4 1328.9 L1789.9 1328.9 L1790.3 1329.8 L1790.8 1328.5 L1791.2 1320.1 L1791.7 1310 L1792.1 1316.3 L1792.6 1329 L1793 1328.3 L1793.5 1327.7 L1793.9 1309.6 L1794.4 1305.8 L1794.8 1329.6 L1795.3 1322.9 L1795.7 1314.5 L1796.2 1314.3 L1796.6 1312.9 L1797.1 1306.6 L1797.5 1298.1 L1798 1303.1 L1798.4 1297.6 L1798.9 1280.4 L1799.3 1299.4 L1799.8 1301.3 L1800.2 1300.5 L1800.7 1283.4 L1801.1 1301.1 L1801.6 1296.5 L1802 1327.1 L1802.5 1326.7 L1802.9 1326.7 L1803.4 1296.4 L1803.8 1304.4 L1804.3 1314.5 L1804.7 1320.5 L1805.2 1321.4 L1805.6 1315.4 L1806.1 1303.6 L1806.5 1307.6 L1807 1329.4 L1807.4 1327.9 L1807.9 1328.3 L1808.3 1327.5 L1808.8 1298.7 L1809.2 1274.8 L1809.7 1294.5 L1810.1 1282.2 L1810.6 1279.7 L1811 1291 L1811.5 1306.2 L1811.9 1282.8 L1812.4 1302.8 L1812.8 1292.6 L1813.3 1301.2 L1813.7 1301.1 L1814.2 1290.7 L1814.6 1299.6 L1815.1 1289.5 L1815.5 1281.7 L1816 1293.6 L1816.4 1280.2 L1816.9 1278.3 L1817.3 1277.1 L1817.8 1271 L1818.2 1273.8 L1818.7 1278 L1819.1 1282.1 L1819.6 1270.3 L1820 1276.7 L1820.5 1264.8 L1820.9 1270.1 L1821.4 1281.6 L1821.8 1282.4 L1822.3 1279.1 L1822.7 1295.4 L1823.2 1290.3 L1823.6 1273.4 L1824.1 1278.2 L1824.5 1277 L1825 1266.5 L1825.4 1271.3 L1825.9 1278.7 L1826.3 1261.7 L1826.8 1255.4 L1827.2 1249.6 L1827.7 1269.2 L1828.1 1245.4 L1828.6 1257.7 L1829 1242.9 L1829.5 1261.2 L1829.9 1251.4 L1830.4 1263.5 L1830.8 1277 L1831.3 1291.2 L1831.7 1279.7 L1832.2 1279.8 L1832.6 1271.5 L1833.1 1282.3 L1833.5 1275 L1834 1266.1 L1834.4 1288 L1834.9 1263.7 L1835.3 1273.3 L1835.8 1258.7 L1836.2 1258.8 L1836.7 1245.9 L1837.1 1242.7 L1837.6 1245.7 L1838 1296.4 L1838.5 1295.4 L1838.9 1255.4 L1839.4 1261 L1839.8 1287.1 L1840.3 1288.2 L1840.7 1285 L1841.2 1282 L1841.6 1273 L1842.1 1275.9 L1842.5 1275.1 L1843 1269.4 L1843.4 1276.5 L1843.9 1254 L1844.3 1259.7 L1844.8 1253.9 L1845.2 1265.3 L1845.7 1265.1 L1846.1 1264.9 L1846.6 1261.2 L1847 1272.6 L1847.5 1244.2 L1847.9 1244.3 L1848.4 1243.6 L1848.8 1244.7 L1849.3 1244.1 L1849.7 1270.3 L1850.2 1262.9 L1850.6 1286.3 L1851.1 1274.6 L1851.5 1263.3 L1852 1266 L1852.4 1266.2 L1852.9 1251.3 L1853.3 1275.4 L1853.8 1269.8 L1854.2 1267.8 L1854.7 1256.1 L1855.1 1269 L1855.6 1265.3 L1856 1282.5 L1856.5 1255.9 L1856.9 1267.1 L1857.4 1269.6 L1857.8 1289.4 L1858.3 1277.3 L1858.7 1286.2 L1859.2 1268.1 L1859.6 1282.5 L1860.1 1290.6 L1860.5 1276.4 L1861 1276.7 L1861.4 1268.3 L1861.9 1275.3 L1862.3 1253.3 L1862.8 1271.2 L1863.2 1268.5 L1863.7 1247.3 L1864.1 1262 L1864.6 1253.1 L1865 1259.9 L1865.5 1250.9 L1865.9 1271.5 L1866.4 1276.6 L1866.8 1265.3 L1867.3 1263.9 L1867.7 1287.5 L1868.2 1278.2 L1868.6 1275.5 L1869.1 1284.4 L1869.5 1280.8 L1870 1276.7 L1870.4 1304.5 L1870.9 1282.3 L1871.3 1290.3 L1871.8 1284.7 L1872.2 1285.8 L1872.7 1264.4 L1873.1 1265.1 L1873.6 1302.8 L1874 1303.4 L1874.5 1262.8 L1874.9 1257.7 L1875.4 1261.2 L1875.8 1277.6 L1876.3 1268 L1876.7 1280.1 L1877.2 1279.2 L1877.6 1290.1 L1878.1 1279.5 L1878.5 1283.2 L1879 1313.7 L1879.4 1291.7 L1879.9 1288.5 L1880.3 1304.4 L1880.8 1305.1 L1881.2 1292.3 L1881.7 1300.4 L1882.1 1290.7 L1882.6 1310.6 L1883 1299.3 L1883.5 1305 L1883.9 1280.6 L1884.4 1296.7 L1884.8 1298.5 L1885.3 1288.8 L1885.7 1292.7 L1886.2 1315 L1886.6 1299.7 L1887.1 1308 L1887.5 1311 L1888 1318.9 L1888.4 1315.1 L1888.9 1313.8 L1889.3 1317 L1889.8 1319.5 L1890.2 1298.2 L1890.7 1304.4 L1891.1 1307.5 L1891.6 1300.9 L1892 1331.5 L1892.5 1330.5 L1892.9 1333 L1893.4 1333.2 L1893.8 1332.6 L1894.3 1305.1 L1894.7 1288.8 L1895.2 1305.1 L1895.6 1311.6 L1896.1 1316.1 L1896.5 1305.4 L1897 1318 L1897.4 1333 L1897.9 1315.5 L1898.3 1314.6 L1898.8 1303.3 L1899.2 1299.5 L1899.7 1304.8 L1900.1 1295.9 L1900.6 1299.3 L1901 1298.4 L1901.5 1287.5 L1901.9 1297.8 L1902.4 1306.5 L1902.8 1318.5 L1903.3 1299.1 L1903.7 1290.6 L1904.2 1311.5 L1904.6 1308.6 L1905.1 1330.9 L1905.5 1317.1 L1906 1316.1 L1906.4 1315.5 L1906.9 1320.3 L1907.3 1324.4 L1907.8 1312 L1908.2 1310.1 L1908.7 1297.1 L1909.1 1310.9 L1909.6 1316.1 L1910 1300.9 L1910.5 1294.5 L1910.9 1299.4 L1911.4 1334.2 L1911.8 1335 L1912.3 1333.5 L1912.7 1334.9 L1913.2 1333 L1913.6 1335 L1914.1 1292 L1914.5 1313.3 L1915 1321.1 L1915.4 1325.2 L1915.9 1323.1 L1916.3 1314.8 L1916.8 1313.1 L1917.2 1303.5 L1917.7 1294.8 L1918.1 1300.1 L1918.6 1301.2 L1919 1285.6 L1919.5 1300.4 L1919.9 1298.8 L1920.4 1302.5 L1920.8 1294.4 L1921.3 1295.2 L1921.7 1310.9 L1922.2 1294 L1922.6 1296.4 L1923.1 1301.5 L1923.5 1298.6 L1924 1311 L1924.4 1311.3 L1924.9 1316.7 L1925.3 1313.1 L1925.8 1315.4 L1926.2 1313.3 L1926.7 1323.1 L1927.1 1322.5 L1927.6 1309 L1928 1310.7 L1928.5 1294.2 L1928.9 1291.5 L1929.4 1297.9 L1929.8 1293.3 L1930.3 1293.2 L1930.7 1284.6 L1931.2 1294 L1931.6 1298.8 L1932.1 1302 L1932.5 1319.8 L1933 1316.9 L1933.4 1305.1 L1933.9 1306.8 L1934.3 1307.6 L1934.8 1306.8 L1935.2 1291.9 L1935.7 1319.7 L1936.1 1298.6 L1936.6 1288.3 L1937 1311 L1937.5 1275 L1937.9 1295.4 L1938.4 1281.9 L1938.8 1276.5 L1939.3 1278.2 L1939.7 1249.4 L1940.2 1261.3 L1940.6 1271 L1941.1 1274.7 L1941.5 1270.8 L1942 1279 L1942.4 1274.1 L1942.9 1279.8 L1943.3 1262.5 L1943.8 1284.7 L1944.2 1286 L1944.7 1274.3 L1945.1 1250.7 L1945.6 1250.4 L1946 1249.6 L1946.5 1249.3 L1946.9 1279.9 L1947.4 1278.2 L1947.8 1278.7 L1948.3 1272.5 L1948.7 1265.7 L1949.2 1253.2 L1949.6 1264 L1950.1 1251.7 L1950.5 1251.2 L1951 1249.3 L1951.4 1268.6 L1951.9 1276.8 L1952.3 1250.5 L1952.8 1250 L1953.2 1261.9 L1953.7 1266.9 L1954.1 1262.5 L1954.6 1270.8 L1955 1276.4 L1955.5 1297 L1955.9 1260.2 L1956.4 1274.6 L1956.8 1277 L1957.3 1278.7 L1957.7 1281.3 L1958.2 1271.7 L1958.6 1251.3 L1959.1 1254.4 L1959.5 1258.1 L1960 1259.5 L1960.4 1252.9 L1960.9 1259.6 L1961.3 1258 L1961.8 1260.5 L1962.2 1268.2 L1962.7 1264.3 L1963.1 1264.8 L1963.6 1283.1 L1964 1253.4 L1964.5 1290.7 L1964.9 1276.9 L1965.4 1275.6 L1965.8 1289 L1966.3 1285.1 L1966.7 1266.2 L1967.2 1259.7 L1967.6 1275 L1968.1 1266.1 L1968.5 1267 L1969 1244.4 L1969.4 1253.7 L1969.9 1269.9 L1970.3 1267.4 L1970.8 1256.4 L1971.2 1264.1 L1971.7 1268.6 L1972.1 1271.6 L1972.6 1289.6 L1973 1268.4 L1973.5 1279.6 L1973.9 1279 L1974.4 1266.4 L1974.8 1270.8 L1975.3 1288.6 L1975.7 1269.9 L1976.2 1267 L1976.6 1268.4 L1977.1 1256.4 L1977.5 1270.1 L1978 1258.8 L1978.4 1254.7 L1978.9 1250 L1979.3 1262 L1979.8 1250.4 L1980.2 1268.8 L1980.7 1265.8 L1981.1 1244.3 L1981.6 1244.1 L1982 1245 L1982.5 1245.4 L1982.9 1290.8 L1983.4 1282.7 L1983.8 1278.9 L1984.3 1291.1 L1984.7 1291.6 L1985.2 1290.7 L1985.6 1292 L1986.1 1292.1 L1986.5 1292.5 L1987 1291.7 L1987.4 1270.5 L1987.9 1262.6 L1988.3 1268.5 L1988.8 1256.1 L1989.2 1274 L1989.7 1260.3 L1990.1 1270.2 L1990.6 1265.9 L1991 1251.7 L1991.5 1276.8 L1991.9 1282.1 L1992.4 1283 L1992.8 1303.4 L1993.3 1293 L1993.7 1308.3 L1994.2 1293.1 L1994.6 1280.7 L1995.1 1295.9 L1995.5 1289 L1996 1287.8 L1996.4 1294.6 L1996.9 1273 L1997.3 1281.2 L1997.8 1288.5 L1998.2 1287.2 L1998.7 1296.4 L1999.1 1279.2 L1999.6 1283 L2000 1296.7 L2000.5 1300.1 L2000.9 1297.7 L2001.4 1309.9 L2001.8 1308.4 L2002.3 1304.3 L2002.7 1324.1 L2003.2 1310.6 L2003.6 1314.8 L2004.1 1332.4 L2004.5 1326.7 L2005 1316.9 L2005.4 1312.2 L2005.9 1303.6 L2006.3 1300.8 L2006.8 1300.3 L2007.2 1302.7 L2007.7 1299.9 L2008.1 1281.6 L2008.6 1282.1 L2009 1304.7 L2009.5 1308.2 L2009.9 1295.6 L2010.4 1278.3 L2010.8 1278.6 L2011.3 1313.8 L2011.7 1316.4 L2012.2 1307.8 L2012.6 1299.1 L2013.1 1301.7 L2013.5 1315.7 L2014 1311.9 L2014.4 1305.2 L2014.9 1314.6 L2015.3 1305.2 L2015.8 1322.2 L2016.2 1303.2 L2016.7 1313.6 L2017.1 1298.2 L2017.6 1310.1 L2018 1298.6 L2018.5 1305 L2018.9 1305 L2019.4 1294.9 L2019.8 1304.4 L2020.3 1296.8 L2020.7 1305.5 L2021.2 1299.4 L2021.6 1307.8 L2022.1 1303.5 L2022.5 1315.4 L2023 1313.3 L2023.4 1313.8 L2023.9 1278.4 L2024.3 1276.9 L2024.8 1277.9 L2025.2 1279.4 L2025.7 1300.8 L2026.1 1309.7 L2026.6 1298.3 L2027 1310.6 L2027.5 1289.5 L2027.9 1331.1 L2028.4 1331.6 L2028.8 1332.6 L2029.3 1331.3 L2029.7 1330.5 L2030.2 1331.6 L2030.6 1304.7 L2031.1 1311.3 L2031.5 1308.4 L2032 1313.1 L2032.4 1315.1 L2032.9 1304.1 L2033.3 1310.2 L2033.8 1321.3 L2034.2 1320.5 L2034.7 1316.2 L2035.1 1310.5 L2035.6 1300 L2036 1308.9 L2036.5 1306.2 L2036.9 1291.6 L2037.4 1284 L2037.8 1292.5 L2038.3 1291.1 L2038.7 1278.2 L2039.2 1299.5 L2039.6 1312.1 L2040.1 1300.6 L2040.5 1331.8 L2041 1330.9 L2041.4 1332.5 L2041.9 1331.9 L2042.3 1316.7 L2042.8 1312 L2043.2 1311.4 L2043.7 1309.3 L2044.1 1304.1 L2044.6 1318.9 L2045 1302.3 L2045.5 1299.1 L2045.9 1293.6 L2046.4 1296.7 L2046.8 1295.4 L2047.3 1303.2 L2047.7 1301.5 L2048.2 1277.4 L2048.6 1279.2 L2049.1 1276.9 L2049.5 1274.6 L2050 1275.2 L2050.4 1300.8 L2050.9 1296.3 L2051.3 1308.8 L2051.8 1297.9 L2052.2 1306.6 L2052.7 1303.3 L2053.1 1285.9 L2053.6 1293.4 L2054 1291.8 L2054.5 1275.3 L2054.9 1278.4 L2055.4 1290.6 L2055.8 1274.4 L2056.3 1286.8 L2056.7 1276.2 L2057.2 1276.6 L2057.6 1279.2 L2058.1 1292.5 L2058.5 1277.4 L2059 1285.9 L2059.4 1278.6 L2059.9 1282.8 L2060.3 1286.8 L2060.8 1255 L2061.2 1256 L2061.7 1255.3 L2062.1 1298.8 L2062.6 1257.5 L2063 1284.4 L2063.5 1266.9 L2063.9 1278.7 L2064.4 1264.9 L2064.8 1259.2 L2065.3 1263.5 L2065.7 1274.6 L2066.2 1280.2 L2066.6 1245.8 L2067.1 1245.3 L2067.5 1244.3 L2068 1244.9 L2068.4 1244.4 L2068.9 1244.5 L2069.3 1270.4 L2069.8 1270.8 L2070.2 1266.6 L2070.7 1278.9 L2071.1 1263.5 L2071.6 1273.4 L2072 1254.6 L2072.5 1264.5 L2072.9 1257.6 L2073.4 1269.2 L2073.8 1263.1 L2074.3 1257 L2074.7 1252.3 L2075.2 1264.2 L2075.6 1262.9 L2076.1 1270.7 L2076.5 1277.7 L2077 1271.6 L2077.4 1275.5 L2077.9 1285.1 L2078.3 1288.6 L2078.8 1275.2 L2079.2 1280.8 L2079.7 1285 L2080.1 1269.7 L2080.6 1272.6 L2081 1283.4 L2081.5 1264.7 L2081.9 1258.5 L2082.4 1266.7 L2082.8 1279.6 L2083.3 1271.2 L2083.7 1253.1 L2084.2 1269.3 L2084.6 1273.8 L2085.1 1263.2 L2085.5 1269.4 L2086 1266 L2086.4 1294.7 L2086.9 1295.5 L2087.3 1293.3 L2087.8 1294.8 L2088.2 1294.9 L2088.7 1294.5 L2089.1 1272.2 L2089.6 1270.9 L2090 1268.1 L2090.5 1253.8 L2090.9 1258.5 L2091.4 1261.6 L2091.8 1262.8 L2092.3 1272.2 L2092.7 1246.6 L2093.2 1272 L2093.6 1261.6 L2094.1 1279.5 L2094.5 1279.1 L2095 1241.4 L2095.4 1242 L2095.9 1242.3 L2096.3 1241.6 L2096.8 1278 L2097.2 1273.6 L2097.7 1278.3 L2098.1 1260 L2098.6 1271.6 L2099 1268 L2099.5 1274 L2099.9 1261.1 L2100.4 1251.9 L2100.8 1251.7 L2101.3 1273 L2101.7 1257.5 L2102.2 1264.7 L2102.6 1271.2 L2103.1 1273.3 L2103.5 1273 L2104 1276.5 L2104.4 1285.1 L2104.9 1281.3 L2105.3 1285.3 L2105.8 1278.5 L2106.2 1286.1 L2106.7 1280 L2107.1 1265.4 L2107.6 1264.9 L2108 1266.9 L2108.5 1252.4 L2108.9 1271.3 L2109.4 1251.2 L2109.8 1254.8 L2110.3 1258.2 L2110.7 1269.1 L2111.2 1259.7 L2111.6 1276.8 L2112.1 1272.4 L2112.5 1265.9 L2113 1271.8 L2113.4 1271.4 L2113.9 1266.2 L2114.3 1286.9 L2114.8 1266.9 L2115.2 1295.2 L2115.7 1290.3 L2116.1 1290.2 L2116.6 1281.4 L2117 1283.1 L2117.5 1299.5 L2117.9 1294.3 L2118.4 1280.4 L2118.8 1290.3 L2119.3 1281.7 L2119.7 1273.4 L2120.2 1293.4 L2120.6 1267.9 L2121.1 1271.4 L2121.5 1281.2 L2122 1282.2 L2122.4 1283.4 L2122.9 1284.1 L2123.3 1288.7 L2123.8 1286.8 L2124.2 1301.5 L2124.7 1283.7 L2125.1 1303.1 L2125.6 1309 L2126 1321.6 L2126.5 1313.7 L2126.9 1313.3 L2127.4 1302.8 L2127.8 1296.1 L2128.3 1325.2 L2128.7 1316.1 L2129.2 1297.8 L2129.6 1300.6 L2130.1 1300.2 L2130.5 1292.9 L2131 1284.9 L2131.4 1306.1 L2131.9 1309.3 L2132.3 1290.7 L2132.8 1311.4 L2133.2 1309.5 L2133.7 1316.4 L2134.1 1309 L2134.6 1327.1 L2135 1330 L2135.5 1329.8 L2135.9 1312.4 L2136.4 1309.6 L2136.8 1313.5 L2137.3 1307.4 L2137.7 1311.6 L2138.2 1309.7 L2138.6 1310.4 L2139.1 1301.5 L2139.5 1300.4 L2140 1299.2 L2140.4 1289.5 L2140.9 1310.4 L2141.3 1310.6 L2141.8 1304.8 L2142.2 1311.4 L2142.7 1305.5 L2143.1 1312.5 L2143.6 1305.2 L2144 1304.3 L2144.5 1300.1 L2144.9 1314.7 L2145.4 1319.6 L2145.8 1310 L2146.3 1304.5 L2146.7 1309.9 L2147.2 1296 L2147.6 1293.1 L2148.1 1306.6 L2148.5 1294.3 L2149 1291 L2149.4 1285.7 L2149.9 1310.6 L2150.3 1300.6 L2150.8 1297.7 L2151.2 1298.2 L2151.6 1289.5 L2152.1 1305.2 L2152.5 1314.3 L2153 1314 L2153.4 1295.7 L2153.9 1317.7 L2154.3 1317.4 L2154.8 1310.6 L2155.2 1314.9 L2155.7 1308.8 L2156.1 1312.8 L2156.6 1311 L2157 1312.7 L2157.5 1291.8 L2157.9 1284.6 L2158.4 1300.2 L2158.8 1301.8 L2159.3 1299 L2159.7 1300.5 L2160.2 1304.6 L2160.6 1297.2 L2161.1 1315.9 L2161.5 1308.9 L2162 1305.7 L2162.4 1309.3 L2162.9 1312.3 L2163.3 1307.5 L2163.8 1298.4 L2164.2 1311.7 L2164.7 1304 L2165.1 1294.7 L2165.6 1309 L2166 1305.5 L2166.5 1307 L2166.9 1300.3 L2167.4 1291 L2167.8 1299.9 L2168.3 1305.7 L2168.7 1300.4 L2169.2 1283.2 L2169.6 1298.1 L2170.1 1328.9 L2170.5 1330.1 L2171 1328.6 L2171.4 1327.4 L2171.9 1329.7 L2172.3 1328.7 L2172.8 1297.9 L2173.2 1310.8 L2173.7 1320.2 L2174.1 1315.8 L2174.6 1286.2 L2175 1314.2 L2175.5 1295 L2175.9 1286.4 L2176.4 1280.2 L2176.8 1301.2 L2177.3 1289.3 L2177.7 1293.8 L2178.2 1282.5 L2178.6 1272.6 L2179.1 1270.2 L2179.5 1269.6 L2180 1270.4 L2180.4 1266.9 L2180.9 1267.2 L2181.3 1299.4 L2181.8 1295.9 L2182.2 1280.9 L2182.7 1285 L2183.1 1269.8 L2183.6 1288.1 L2184 1293.2 L2184.5 1257 L2184.9 1281 L2185.4 1260.6 L2185.8 1265.2 L2186.3 1284 L2186.7 1259.5 L2187.2 1300.7 L2187.6 1301.3 L2188.1 1298.3 L2188.5 1298.5 L2189 1268.1 L2189.4 1276 L2189.9 1271.9 L2190.3 1261.8 L2190.8 1266.2 L2191.2 1284.2 L2191.7 1288.7 L2192.1 1283.6 L2192.6 1288 L2193 1267.4 L2193.5 1279.5 L2193.9 1261 L2194.4 1278.8 L2194.8 1264.6 L2195.3 1259.6 L2195.7 1259.6 L2196.2 1266 L2196.6 1267.9 L2197.1 1265.7 L2197.5 1266.6 L2198 1266.1 L2198.4 1268.6 L2198.9 1268.8 L2199.3 1277.4 L2199.8 1263.6 L2200.2 1274.3 L2200.7 1265.6 L2201.1 1268.8 L2201.6 1295 L2202 1265.4 L2202.5 1272 L2202.9 1273.6 L2203.4 1287.4 L2203.8 1275.2 L2204.3 1275.1 L2204.7 1265.5 L2205.2 1280.4 L2205.6 1271.6 L2206.1 1269.9 L2206.5 1259.3 L2207 1260.6 L2207.4 1267.5 L2207.9 1261.7 L2208.3 1262.7 L2208.8 1272.5 L2209.2 1270.5 L2209.7 1257.8 L2210.1 1258.1 L2210.6 1259 L2211 1254.6 L2211.5 1266.7 L2211.9 1274.1 L2212.4 1278.1 L2212.8 1271.3 L2213.3 1276.4 L2213.7 1277.5 L2214.2 1289.2 L2214.6 1268.8 L2215.1 1287.7 L2215.5 1292.9 L2216 1280.4 L2216.4 1268.5 L2216.9 1281.1 L2217.3 1260.3 L2217.8 1257 L2218.2 1258.5 L2218.7 1255.2 L2219.1 1249.9 L2219.6 1262.2 L2220 1266.5 L2220.5 1272.4 L2220.9 1267.5 L2221.4 1274.4 L2221.8 1257.8 L2222.3 1283 L2222.7 1269.8 L2223.2 1271.9 L2223.6 1283.9 L2224.1 1243.8 L2224.5 1244 L2225 1243 L2225.4 1242.7 L2225.9 1274 L2226.3 1265.6 L2226.8 1269.1 L2227.2 1267.2 L2227.7 1253.4 L2228.1 1262.8 L2228.6 1244.4 L2229 1244.5 L2229.5 1244.3 L2229.9 1244.9 L2230.4 1245.6 L2230.8 1242.4 L2231.3 1260.4 L2231.7 1269.1 L2232.2 1276.6 L2232.6 1291.4 L2233.1 1283.3 L2233.5 1274 L2234 1265.4 L2234.4 1266.1 L2234.9 1270.5 L2235.3 1270.9 L2235.8 1279.4 L2236.2 1264.6 L2236.7 1272 L2237.1 1255.4 L2237.6 1281.6 L2238 1266.9 L2238.5 1259.1 L2238.9 1259.7 L2239.4 1275.3 L2239.8 1264.4 L2240.3 1267.5 L2240.7 1275.7 L2241.2 1254.9 L2241.6 1283.7 L2242.1 1277.7 L2242.5 1276.9 L2243 1278.1 L2243.4 1276.5 L2243.9 1281.9 L2244.3 1281 L2244.8 1283.8 L2245.2 1287.9 L2245.7 1259.2 L2246.1 1260.5 L2246.6 1262.7 L2247 1296.1 L2247.5 1296.5 L2247.9 1290.9 L2248.4 1285.4 L2248.8 1281.9 L2249.3 1297.2 L2249.7 1290.5 L2250.2 1286.7 L2250.6 1290.3 L2251.1 1303.5 L2251.5 1294.8 L2252 1301.8 L2252.4 1302.2 L2252.9 1304.2 L2253.3 1309.2 L2253.8 1312 L2254.2 1314.6 L2254.7 1310.5 L2255.1 1313.1 L2255.6 1318.5 L2256 1313.9 L2256.5 1290.5 L2256.9 1299.5 L2257.4 1301.1 L2257.8 1316.6 L2258.3 1309.1 L2258.7 1297.5 L2259.2 1280.8 L2259.6 1281.9 L2260.1 1279.6 L2260.5 1304.7 L2261 1311.8 L2261.4 1313.2 L2261.9 1298.1 L2262.3 1306.7 L2262.8 1296.8 L2263.2 1317.4 L2263.7 1313.6 L2264.1 1324.6 L2264.6 1319.2 L2265 1327.3 L2265.5 1322.9 L2265.9 1306.7 L2266.4 1310 L2266.8 1314.4 L2267.3 1329.5 L2267.7 1330.5 L2268.2 1330 L2268.6 1329.1 L2269.1 1328.7 L2269.5 1299 L2270 1308.4 L2270.4 1316.2 L2270.9 1295.2 L2271.3 1311 L2271.8 1312.6 L2272.2 1322.2 L2272.7 1326.6 L2273.1 1315.9 L2273.6 1332.9 L2274 1317.6 L2274.5 1326.4 L2274.9 1323.7 L2275.4 1314.4 L2275.8 1308.5 L2276.3 1313.4 L2277 1317.2 L2278.6 1271.3 L2281.2 1215.6 L2286.8 1156.7 L2289 1100 L2291.7 1048.6 L2296.6 992.9 L2299.9 937.2 L2304.2 881.5 L2305.5 848.8 L2306.5 816" fill="none" stroke="#008000" stroke-width="4.3" stroke-linejoin="round" stroke-linecap="butt" clip-path="url(#cld)"/>
<path d="M530 1879 L556 1879 L556 1812.4 L556.5 1893.7 L556.9 1803.9 L557.4 1827.2 L557.8 1803.2 L558.3 1848.1 L558.7 1849.1 L559.2 1891 L559.6 1854.4 L560.1 1888.8 L560.5 1823.2 L561 1903.9 L561.4 1831.9 L561.9 1916.9 L562.3 1823.1 L562.8 1853.7 L563.2 1859.9 L563.7 1910.1 L564.1 1825.3 L564.6 1916.8 L565 1847.5 L565.5 1919.1 L565.9 1832 L566.4 1909.7 L566.8 1891.3 L567.3 1909.5 L567.7 1891.2 L568.2 1916 L568.6 1905 L568.9 2090 L569.5 2090 L570.2 1905 L572.2 1904.8 L575 1909 L577.5 1914 L579 1923.4 L579 1970.2 L598.8 1970.2 L600.5 1967.5 L603 1967.5 L606 1970 L610 1973 L613 1975 L615.6 1978.5 L616.2 2002 L616.7 2052.3 L617.1 1981.4 L617.6 2035.8 L618 1998.1 L618.5 2049.3 L618.9 1967.3 L619.4 2053 L619.8 1983.8 L620.3 2042.6 L620.7 1962.1 L621.2 2054.9 L621.6 1989.9 L622.1 2058.1 L622.5 1989.9 L623 2065.5 L623.4 1982.4 L623.9 2055.5 L624.3 1977.4 L624.8 2031 L625.2 1980.9 L625.7 2037.8 L626.1 1976.2 L626.6 2033.1 L627 1993.2 L627.5 2051.1 L627.9 1982.1 L628.4 2036.4 L628.8 1953.4 L629.3 2046.1 L629.7 1791.2 L630.2 1791.2 L630.6 1978.6 L631.1 2032.3 L631.5 1985.6 L632 2048.5 L632.4 1979.9 L632.9 2034.6 L633.3 1976.3 L633.8 2025.5 L634.2 1978.6 L634.7 2026.2 L635.1 1983.1 L635.6 2025.6 L636.4 1960.8 L636.9 2002.2 L637.3 1964.5 L637.8 1975.2 L638.2 1961.3 L638.7 1972.4 L639.1 1919.2 L639.6 1975.1 L640 1961.7 L640.5 1993.2 L640.9 1943.9 L641.4 1976.4 L641.8 1917.6 L642.3 1974.1 L642.7 1963.6 L643.2 1995.2 L643.6 1960.3 L644.1 1974.7 L644.5 1964.8 L645 1995 L645.4 1963.1 L645.9 1974.3 L646.3 1960.2 L646.8 1976.3 L647.2 1964.2 L647.7 1974.9 L648.1 1960.3 L648.6 1999.5 L649 1961.1 L649.5 1981.4 L649.9 1964.5 L650.4 1972.6 L650.8 1963.3 L651.3 1988.6 L651.7 2004 L652.6 1960 L653.4 1900 L654.2 1830 L655 1770 L655.5 1773.4 L656 1791.5 L656.4 1771.4 L656.9 1789.9 L657.3 1770.6 L657.8 1830.2 L658.2 1773 L658.7 1811.9 L659.1 1772.1 L659.6 1824.1 L660 1775.8 L660.5 1841 L660.9 1773.4 L661.4 1791.4 L661.8 1771.1 L662.3 1843.7 L662.7 1769.1 L663.2 1792 L663.6 1757.2 L664.1 1790.8 L664.5 1772.8 L665 1790.6 L665.4 1771.6 L665.9 1827.8 L666.3 1771 L666.8 1836.5 L667.2 1770.9 L667.7 1787.7 L668.1 1774.1 L668.6 1789.3 L669 1747.2 L669.5 1790.7 L669.9 1773.4 L670.4 1791.6 L670.8 1771.2 L671.3 1854.5 L671.7 1775.3 L672.2 1791.3 L672.6 1772.5 L673.1 1809.1 L673.5 1774.4 L674 1788.2 L674.4 1771.4 L674.9 1791.4 L675.3 1751.7 L675.8 1790.6 L676.2 1765.8 L676.7 1841.6 L677.1 1770.4 L677.6 1806.2 L678 1774.2 L678.5 1785 L678.9 1775.5 L679.4 1790.7 L679.8 1774.3 L680.3 1788.6 L680.7 1752.6 L681.2 1790.8 L681.6 1751.7 L682.1 1789.8 L682.5 1772.5 L683 1880.3 L683.4 1771.2 L683.9 1791.3 L684.3 1774.7 L684.8 1817.1 L685.6 1721.8 L686.1 1776.8 L686.5 1712.7 L687 1787.4 L687.4 1715.1 L687.9 1777.8 L688.3 1711.7 L688.8 1790.1 L689.2 1717.8 L689.7 1789.2 L690.1 1728 L690.6 1787.9 L691 1721.1 L691.5 1790.8 L691.9 1690.7 L692.4 1783.2 L692.8 1715 L693.3 1783.6 L693.7 1707 L694.2 1780.8 L694.6 1715.3 L695.1 1778.8 L695.5 1658.1 L696 1775.8 L696.4 1658.1 L696.9 1791.9 L697.3 1715 L697.8 1768.3 L698.2 1711.6 L698.7 1793.2 L699.1 1713.1 L699.6 1785.5 L700 1710.1 L700.5 1774.6 L700.9 1838 L701.4 1783.6 L701.8 1715.4 L702.3 1779.7 L702.7 1684.3 L703.2 1784.1 L703.6 1705.7 L704.1 1678.8 L704.5 1684.5 L705 1782.3 L705.4 1700.7 L705.9 1767 L706.3 1723.3 L706.8 1791.8 L707.2 1716.6 L707.7 1788.6 L708.1 1715.5 L708.6 1784.4 L709 1690.7 L709.5 1777.6 L709.9 1713.6 L710.4 1776.6 L710.8 1712.1 L711.3 1785.4 L711.7 1727.9 L712.2 1826.8 L712.6 1727.5 L713.1 1773.7 L713.5 1713.5 L714 1788.4 L714.4 1711.8 L714.9 1770.7 L715.3 1846.7 L715.8 1771.5 L716.6 1939.7 L717 1910.7 L717.5 1998.5 L717.9 1969.3 L718.4 1992.5 L718.8 1965.8 L719.3 1996.5 L719.7 1893.9 L720.2 1998.5 L720.6 1964.2 L721.1 1999.2 L721.5 1962.4 L722 1988.1 L722.4 1965.3 L722.9 1998.9 L723.3 1966.3 L723.8 1999.1 L724.2 1971.6 L724.7 1996.2 L725.1 1967.1 L725.6 1993.4 L726 1970.1 L726.5 1998.3 L726.9 1963.2 L727.4 1997.9 L727.8 1962.4 L728.3 1991.4 L728.7 1962.3 L729.2 1998.9 L729.6 1910.4 L730.1 1991.4 L730.5 1964.4 L731 1991.7 L731.5 1969.2 L732 1991.2 L732.4 1968.5 L732.9 1984.2 L733.3 1968.3 L733.8 1987.6 L734.2 1968.5 L734.7 1984.9 L735.1 1970.1 L735.6 1980.3 L736 1967.6 L736.5 1984.5 L736.9 1940.2 L737.4 1985.9 L737.8 1946.2 L738.3 1982.8 L738.7 1965.8 L739.2 1980.8 L739.6 1966.2 L740.1 1987.1 L740.5 1967 L741 1983.7 L741.4 1965 L741.9 1985.8 L742.3 1967.2 L742.8 1991.7 L743.2 1944.1 L743.7 1992 L744.1 1882.9 L744.6 1983.3 L745 1940 L745.5 1981.9 L745.9 1944.1 L746.5 1976.6 L747 2046 L747.4 1969.2 L747.9 2045.4 L748.3 1979.7 L748.8 2036.8 L749.2 1972.5 L749.7 2028.9 L750.1 1972.1 L750.6 2049.8 L751 1985.3 L751.5 2038.5 L751.9 1934.6 L752.4 2042.5 L752.8 1971.5 L753.3 2047.3 L753.7 1978.4 L754.2 2032.4 L754.6 2006.1 L755.1 2043 L755.5 1968.5 L756 2029.8 L756.4 1980.4 L756.9 1911.3 L757.3 1911.3 L757.8 2036.8 L758.2 1985.1 L758.7 2043.3 L759.1 1982.8 L759.6 1993.4 L760 1966.6 L760.5 2026.5 L760.9 1971.5 L761.4 2028.6 L761.8 1972.1 L762.3 2033.4 L762.7 1973.9 L763.2 2037.7 L763.6 1969 L764.1 2011.3 L764.5 2027.9 L765 2033 L765.4 2016.6 L765.9 2033.2 L766.3 1965.4 L766.8 1970.3 L767.2 1965.4 L767.7 2030.9 L768.1 1967.1 L768.6 2030.5 L769 1968.2 L769.5 1977.2 L770 1958.5 L770.5 2027.8 L770.9 1969.5 L771.4 2028.2 L771.8 1962.9 L772.3 1966 L772.7 1963.4 L773.2 1963.9 L773.6 1958.9 L774.1 2025 L774.5 1968.2 L775 2025.4 L775.4 1963.3 L775.9 2018.3 L776.3 1968.2 L776.8 1972.6 L777.2 1971.3 L777.7 2028.3 L778.1 1960.6 L778.6 2031.4 L779 1968.6 L779.5 2025.8 L779.9 1974.6 L780.4 2007.6 L780.8 1962.3 L781.3 2026.8 L781.7 2009.3 L782.2 2027.4 L782.6 1966.3 L783.1 2022.5 L783.5 2019.3 L784 1989.9 L784.4 1980 L784.9 1976.2 L785.3 1968.7 L785.8 2007.2 L786.2 1959 L786.7 2011.7 L787.1 1956.5 L787.6 2013.1 L788 1956.8 L788.5 2005.4 L788.9 1958.4 L789.4 2009 L789.8 1956.9 L790.3 2013.8 L791 1960 L791.7 1769.2 L792.2 1778.3 L792.7 1794.4 L793.1 1775.5 L793.6 1792.9 L794 1773.9 L794.5 1850 L794.9 1774 L795.4 1820 L795.8 1769.3 L796.3 1793.3 L796.7 1773.6 L797.2 1824 L797.6 1774 L798.1 1793.9 L798.5 1769.3 L799 1851.9 L799.4 1782.4 L799.9 1844.3 L800.3 1769.6 L800.8 1820.5 L801.2 1773.1 L801.7 1795 L802.1 1776.4 L802.6 1789.2 L803.4 1779.5 L807 1771 L811.1 1761.4 L811.6 1784.7 L812.1 1760 L815 1755 L818.9 1751.1 L824 1745.8 L829.2 1740.8 L832 1738 L832.5 1673 L833 1737 L839.5 1730.4 L840.2 1665 L840.8 1729.5 L844 1728 L844.6 1672 L845.2 1727.5 L846.2 1657 L846.8 1727 L847.5 1657 L848.1 1726.5 L849 1672 L849.5 1726 L850.5 1660 L851.2 1725 L852 1724 L852.5 1895.8 L853.2 1793.8 L853.7 1888.9 L854.1 1869.3 L854.6 1889.6 L855 1822.5 L855.5 1887.8 L855.9 1870.4 L856.4 1888.9 L856.8 1868.1 L857.3 1887.7 L857.7 1794.9 L858.2 1885.3 L858.6 1865.2 L859.1 1883.5 L859.5 1866.9 L860 1888.2 L860.4 1867.7 L860.9 1885.8 L861.3 1870.7 L861.8 1885.2 L862.2 1865.9 L862.7 1888.9 L863.1 1870.8 L863.6 1893.2 L864.1 1879 L872.2 1879 L872.6 1855.8 L873.1 1879 L909.3 1879 L909.6 1823.5 L910.1 1866.8 L910.5 1801.1 L911 1818.4 L911.4 1803.3 L911.9 1905 L912.3 1912.1 L912.8 1911.7 L913.2 1809.7 L913.7 1918.7 L914.1 1807.1 L914.6 1912.6 L915 1818.8 L915.5 1887.6 L915.9 1815.2 L916.4 1929.9 L916.8 1820.4 L917.3 1935 L917.7 1840.7 L918.2 1931.6 L918.6 1847.9 L919.1 1904.8 L919.5 1834.4 L920 1922.1 L920.4 1846.4 L920.9 1934.9 L921.3 1870.5 L921.8 1904.6 L922.2 1866.9 L922.7 1888.1 L923.1 1873.4 L923.6 1947 L924 1875.2 L924.5 1947.2 L924.9 1953.8 L925.4 1891.5 L925.8 1882.8 L926.3 1951 L926.7 1882.6 L927.2 1953.5 L927.6 1885.6 L928.1 1950.5 L928.9 1882 L928.9 1970.4 L950.4 1970.4 L950.4 1925.7 L953.5 1928.5 L955.8 1929.6 L955.8 1970.4 L956.6 1970.4 L956.6 1933.5 L962 1934 L966.7 1935 L968.2 1945.3 L968.7 1978.3 L969.1 1940.9 L969.6 1976.4 L970 1972.8 L970.5 1982 L970.9 1924.3 L971.4 1943.8 L971.8 1921.8 L972.3 1973.6 L972.7 2029.6 L973.2 1975.2 L973.6 1916.1 L974.1 1990.4 L974.5 1911.2 L975 2029.6 L975.4 1905.1 L975.9 1997.7 L976.3 2002 L976.8 1990.5 L977.2 1905.6 L977.7 2007.6 L978.1 1894.7 L978.6 1996.6 L979 1907.4 L979.5 2006.2 L979.9 1920.7 L980.4 2008 L980.8 1894.3 L981.3 2004.5 L981.7 1979.7 L982.2 1994.8 L982.6 1929.4 L983.1 1987.7 L983.5 1897.5 L984 1962.3 L984.4 1895.1 L984.9 1975.5 L985.3 1885.8 L985.8 1971.8 L986.2 1895.3 L986.7 1967 L987.1 1894.8 L987.6 1973 L988 1891 L988.5 1964.5 L988.9 1888.5 L989.4 1961.4 L989.8 1923.3 L990.3 1959.6 L990.7 1896.5 L991.2 1969.5 L991.6 1885.4 L992.1 1937.8 L992.5 1890.2 L993 1975 L993.4 1897.5 L993.9 1964.7 L994.3 1888.9 L994.8 1967 L995.2 1890.5 L995.7 1943.5 L996.1 1897.7 L996.6 1887.1 L997 1888.1 L997.5 1950.8 L997.9 1911.8 L998.4 1960.2 L998.8 1888.7 L999.3 1966 L999.7 1885.9 L1000.2 1929.8 L1000.6 1887.1 L1001.1 1969.4 L1001.5 1931.7 L1002 1959.4 L1002.4 1942.4 L1002.9 1968.2 L1003.3 1898.9 L1003.8 1962.7 L1004.2 1899.3 L1004.7 1959.2 L1005.1 1903.6 L1005.6 1961.3 L1006 1895.8 L1006.5 1966.2 L1006.9 1965.9 L1007.4 1966.1 L1007.8 1925.1 L1008.3 1969.7 L1008.7 1899.2 L1009.2 1960.9 L1009.6 1912.6 L1010.1 1966.7 L1010.5 1905.6 L1011 1968.2 L1011.4 1911.8 L1011.9 1967 L1012.3 1912.2 L1012.8 1997.3 L1013.2 1928.3 L1013.7 2012.9 L1014.1 1925.1 L1014.6 2004.7 L1015 1925.9 L1015.5 2006 L1015.9 1932.6 L1016.4 2034.3 L1016.8 1937.9 L1017.3 2013.5 L1017.7 1945.4 L1018.2 2014 L1018.6 1948.2 L1019.1 2002.3 L1019.5 1962.3 L1020 2011 L1020.4 1958.3 L1020.9 2007.6 L1021.3 1959.8 L1021.8 2009 L1022.2 1965.2 L1022.7 2006.4 L1023.1 1964.1 L1023.6 2002.5 L1024 1965.1 L1024.5 2007.3 L1024.9 1970.5 L1025.4 2001.7 L1025.8 1971.1 L1026.3 1998.8 L1026.7 1973.5 L1027.2 2000.5 L1027.6 1973.1 L1028.1 1999 L1028.7 1852.8 L1029.1 1816.3 L1029.5 1850.8 L1030 1799 L1030.5 1852.9 L1030.9 1822.8 L1031.4 1846.3 L1031.8 1815.3 L1032.3 1852.1 L1032.7 1803.5 L1033.2 1849.9 L1033.6 1809.4 L1034.1 1852.6 L1034.5 1824.1 L1035 1852.9 L1035.4 1808.3 L1035.9 1840.8 L1036.3 1760 L1036.8 1850.8 L1037.2 1810.8 L1037.7 1852.4 L1038.1 1751.9 L1038.6 1852.7 L1039.3 1700 L1039.8 1700 L1040.2 1612.8 L1040.7 1676.3 L1041.1 1604.2 L1041.6 1680.5 L1042 1599.4 L1042.5 1681.9 L1042.9 1615.2 L1043.4 1683.2 L1043.8 1607.9 L1044.3 1687.4 L1044.7 1613.3 L1045.2 1673.5 L1045.6 1595 L1046.1 1684.3 L1046.5 1604.2 L1047 1689.9 L1047.4 1596.9 L1047.9 1605.1 L1048.3 1609.5 L1048.8 1683 L1049.2 1607.1 L1049.7 1693.3 L1050.1 1599.5 L1050.6 1693.3 L1051 1603.5 L1051.5 1689.9 L1051.9 1598.7 L1052.4 1628.7 L1052.8 1634.6 L1053.3 1687.9 L1053.7 1596.5 L1054.2 1624.3 L1054.6 1593.8 L1055.1 1688.3 L1055.5 1605.1 L1056 1685.9 L1056.4 1600.6 L1056.9 1688.3 L1057.6 1517.9 L1058 1593.8 L1058.5 1517.3 L1059 1599.4 L1059.4 1535.2 L1059.9 1605.6 L1060.3 1529.9 L1060.8 1606.7 L1061.2 1548.2 L1061.7 1580.9 L1062.1 1522 L1062.6 1613.6 L1063 1516.4 L1063.5 1587 L1063.9 1517.1 L1064.4 1613.4 L1064.8 1604.4 L1065.3 1609.1 L1065.7 1524.9 L1066.2 1611.5 L1066.6 1521.9 L1067.1 1610.2 L1067.5 1534.7 L1068 1612.8 L1068.4 1535.7 L1068.9 1609.9 L1069.3 1540.4 L1069.8 1606.4 L1070.2 1539.5 L1070.7 1604.5 L1071.1 1557.3 L1071.6 1605.3 L1072 1542.3 L1072.5 1606.1 L1072.9 1540.4 L1073.4 1606.8 L1073.8 1540.2 L1074.3 1612.7 L1074.7 1561.9 L1075.2 1612 L1075.6 1545.2 L1076.1 1608.8 L1076.5 1548.9 L1077 1609.5 L1077.4 1555.6 L1077.9 1529.6 L1078.3 1529.6 L1078.8 1612.7 L1079.2 1559.4 L1079.7 1604.7 L1080.1 1554.4 L1080.6 1609 L1081 1555.8 L1081.5 1610.4 L1081.9 1562.7 L1082.4 1608.1 L1082.8 1566 L1083.3 1607.8 L1083.7 1570.5 L1084.2 1603.1 L1084.6 1643 L1085.1 1643 L1085.5 1569.7 L1086 1610.3 L1086.4 1611.1 L1086.9 1614.9 L1087.3 1569.5 L1087.8 1607 L1088.2 1581.7 L1088.7 1614.6 L1089.5 1643 L1090 1700 L1090.3 1784 L1090.8 1865.4 L1091.2 1790.9 L1091.7 1857.5 L1092.1 1731.7 L1092.6 1859 L1093 1733.9 L1093.5 1864.8 L1093.9 1813 L1094.4 1852.9 L1094.8 1790.4 L1095.3 1861.6 L1095.7 1731.8 L1096.2 1865.9 L1096.6 1810 L1097.1 1850.2 L1097.5 1741.2 L1098 1862.7 L1098.4 1736.4 L1098.9 1854.9 L1099.3 1781.5 L1099.8 1864.2 L1100.2 1779.2 L1100.7 1853.1 L1101.1 1803 L1101.6 1902.5 L1102 1971.1 L1102.5 1922.7 L1103 1978.4 L1103.4 1896.4 L1103.9 1972.8 L1104.3 1896.6 L1104.8 1978.8 L1105.2 1902.2 L1105.7 1976.1 L1106.1 1933.7 L1106.6 1976.3 L1107 1895.9 L1107.5 1972.2 L1107.9 1903.1 L1108.4 1980 L1108.8 1900.8 L1109.3 1977.2 L1109.7 1893.9 L1110.2 1904.4 L1110.6 1888.6 L1111.1 1968.6 L1111.5 1966.5 L1112 1979 L1112.4 1893.6 L1112.9 1966.1 L1113.3 1898.4 L1113.8 1969 L1114.2 1926.6 L1114.7 1938 L1115.1 1889.5 L1115.6 1977.7 L1116 1912 L1116.5 1973.1 L1116.9 1886.1 L1117.4 1953.7 L1117.8 1886 L1118.3 1980.3 L1118.7 1899.9 L1119.2 1973.3 L1119.6 1883.9 L1120.2 1965.2 L1120.7 1994.1 L1121.1 1969.5 L1121.6 1990.9 L1122 1966 L1122.5 1989.8 L1122.9 1962.6 L1123.4 1989.4 L1123.8 1967.9 L1124.3 1988.7 L1124.7 1967.7 L1125.2 1985.9 L1125.6 1962.6 L1126.1 1991.3 L1126.5 1969.6 L1127 1989.3 L1127.4 1962.8 L1127.9 1990.8 L1128.3 1969.8 L1128.8 1990 L1129.2 1968.7 L1129.7 1988.5 L1130.1 1971.9 L1130.6 2010.6 L1131 1963.6 L1131.5 1955.4 L1132 1984.5 L1132.4 1955.7 L1132.9 1987.9 L1133.3 1956.1 L1133.8 1991.6 L1134.2 1969.6 L1134.7 1990.8 L1135.1 1953.3 L1135.6 1986.1 L1136 1952.4 L1136.5 1993.4 L1136.9 1946.4 L1137.4 1992.2 L1137.8 1955.5 L1138.3 1997.8 L1138.7 1948.7 L1139.2 1995.5 L1139.6 1939.3 L1140.1 1999.4 L1140.5 1949.5 L1141 1993.6 L1141.4 1938 L1141.9 1992.8 L1142.3 1937.3 L1142.8 1976.1 L1143.2 1931.7 L1143.7 1975.8 L1144.1 1948.9 L1144.6 2009.6 L1145 1998.4 L1145.5 1986.9 L1145.9 1929.7 L1146.5 1736.3 L1147 1790.5 L1147.5 1839.1 L1147.9 1795.1 L1148.4 1834.2 L1148.8 1797.3 L1149.3 1823 L1149.7 1794.5 L1150.2 1828.8 L1150.6 1795.9 L1151.1 1819.2 L1151.5 1791.9 L1152 1824.7 L1152.4 1792.3 L1152.9 1824.7 L1153.3 1791.7 L1153.8 1835.4 L1154.2 1802.3 L1154.7 1836.3 L1155.1 1802.1 L1155.6 1827.1 L1156.5 1812.8 L1163 1803 L1163.5 1750 L1164 1802 L1169.8 1792.9 L1178 1784 L1186.5 1776.2 L1193 1770 L1193.5 1740 L1194 1768 L1199.8 1762.9 L1201 1712 L1202 1760 L1203.5 1705 L1204.5 1755 L1205.5 1696.4 L1206.2 1752.9 L1206.4 1929.3 L1207 1878.4 L1207.5 1922 L1207.9 1887.6 L1208.4 1924.3 L1208.8 1865 L1209.3 1926.8 L1209.7 1878.2 L1210.2 1918.7 L1210.6 1878.8 L1211.1 1918.8 L1211.5 1880.6 L1212 1925.2 L1212.4 1882.1 L1212.9 1924.1 L1213.3 1879.9 L1213.8 1922 L1214.2 1879.3 L1214.7 1879 L1221 1879 L1221.4 1912.7 L1221.8 1879 L1234.7 1879" fill="none" stroke="#ff0000" stroke-width="3.4" stroke-linejoin="round" stroke-linecap="butt" clip-path="url(#cle)"/>
<path d="M1610 1512 L1610 1518.3 L1611.6 1566.6 L1615 1606.6 L1620 1659.9 L1623.3 1743.1 L1628.3 1799.8 L1633.3 1886.4 L1640 1969.6 L1643.3 1996.3 L1643.8 1997.3 L1644.2 2002.3 L1644.7 1997.5 L1645.2 1997 L1645.6 1993 L1646.1 1997.6 L1646.5 2006.2 L1647 2001.8 L1647.4 2005.7 L1647.9 2000.6 L1648.3 2001.6 L1648.8 2025.4 L1649.2 2018.3 L1649.7 2012.6 L1650.1 2011.7 L1650.6 2002.2 L1651 1988 L1651.5 1987.7 L1651.9 1993.2 L1652.4 1996 L1652.8 2001 L1653.3 1998.7 L1653.7 2002.4 L1654.2 1975.9 L1654.6 1980 L1655.1 1982.4 L1655.5 1988.1 L1656 1987.9 L1656.4 2002.6 L1656.9 2006.8 L1657.3 1995 L1657.8 1980.7 L1658.2 1983 L1658.7 1985 L1659.1 1992.4 L1659.6 1992.6 L1660 1994.4 L1660.5 1992.8 L1660.9 1995.6 L1661.4 2006.9 L1661.8 1993.7 L1662.3 2000.6 L1662.7 2001.8 L1663.2 1989.3 L1663.6 1976.4 L1664.1 1979.8 L1664.5 1987 L1665 1986.9 L1665.4 1998.3 L1665.9 1993.7 L1666.3 2002.2 L1666.8 1998.6 L1667.2 1989.5 L1667.7 2004.4 L1668.1 2003.4 L1668.6 2013.9 L1669 2012.6 L1669.5 2009.2 L1669.9 2035.4 L1670.4 1990.6 L1670.8 2003 L1671.3 1995 L1671.7 1996.1 L1672.2 1977.7 L1672.6 1980.2 L1673.1 1995.5 L1673.5 2007.4 L1674 1985.8 L1674.4 1989.5 L1674.9 2000.6 L1675.3 2008.4 L1675.8 2002.8 L1676.2 1986.7 L1676.7 1982.6 L1677.1 2001.3 L1677.6 1980.9 L1678 1988.5 L1678.5 1989.6 L1678.9 1990.2 L1679.4 1992.2 L1679.8 1996.3 L1680.3 2001.8 L1680.7 2009.4 L1681.2 2003 L1681.6 2002.4 L1682.1 2002.6 L1682.5 1988.8 L1683 2007.3 L1683.4 2019.7 L1683.9 2015.4 L1684.3 2011.7 L1684.8 1994.9 L1685.2 2004.5 L1685.7 1987.2 L1686.1 1975.3 L1686.6 1980.8 L1687 1982.3 L1687.5 1984.5 L1687.9 2002.6 L1688.4 1998 L1688.8 2001.1 L1689.3 2003.2 L1689.7 2023.3 L1690.2 2019.6 L1690.6 2014.4 L1691.1 2011 L1691.5 2005.8 L1692 1999.2 L1692.4 1993.3 L1692.9 2005.2 L1693.3 2008.5 L1693.8 1996.1 L1694.2 1990 L1694.7 1998.1 L1695.1 1998 L1695.6 1997.1 L1696 1974.3 L1696.5 1977.1 L1696.9 1982 L1697.4 1986.9 L1697.8 1989.6 L1698.3 2003.1 L1698.7 2006.3 L1699.2 2004.6 L1699.6 2001.2 L1700.1 1999.9 L1700.5 2000 L1701 2021.8 L1701.4 2017.7 L1701.9 2016 L1702.3 2002.7 L1702.8 1999 L1703.2 2004 L1703.7 2002.7 L1704.1 1981.1 L1704.6 1986 L1705 1987.2 L1705.5 1991.7 L1705.9 1994.6 L1706.4 2005 L1706.8 1996.8 L1707.3 2001.5 L1707.7 2010.9 L1708.2 1982.3 L1708.6 1991.7 L1709.1 2000.6 L1709.5 2001.6 L1710 2015.5 L1710.4 2013.9 L1710.9 2010.7 L1711.3 2009.8 L1711.8 2005.7 L1712.2 2001.8 L1712.7 2001.3 L1713.1 1995.4 L1713.6 1998.4 L1714 1997.5 L1714.5 1984.2 L1714.9 1985.1 L1715.4 1987.6 L1715.8 1991.9 L1716.3 1990.1 L1716.7 1998.6 L1717.2 2005.2 L1717.6 2004.6 L1718.1 2008.7 L1718.5 1987.9 L1719 2020 L1719.4 2016 L1719.9 2015.4 L1720.3 2010.8 L1720.8 2006.6 L1721.2 2003.5 L1721.7 1989.6 L1722.1 2003.4 L1722.6 1989.3 L1723 2000.1 L1723.5 2006.8 L1723.9 2015.2 L1724.4 2016.4 L1724.8 2004.2 L1725.3 1999.9 L1725.7 1998.4 L1726.2 2009 L1726.6 2005.8 L1727.1 1997.1 L1727.5 2016.8 L1728 1991.5 L1728.4 2004.9 L1728.9 1997.3 L1729.3 1999.9 L1729.8 1983.2 L1730.2 1985.4 L1730.7 1985.9 L1731.1 1989.3 L1731.6 1994.1 L1732 2003 L1732.5 1992.7 L1732.9 1992.3 L1733.4 1989.4 L1733.8 1975.8 L1734.3 1979.8 L1734.7 1983.5 L1735.2 1985.2 L1735.6 1991.4 L1736.1 1991.6 L1736.5 2004 L1737 2009.3 L1737.4 1993.2 L1737.9 2009.1 L1738.3 2005.4 L1738.8 1942.9 L1739.2 1986.2 L1739.7 2008.1 L1740.1 1981.8 L1740.6 1983.9 L1741 2001.6 L1741.5 2001.7 L1741.9 2008.7 L1742.4 1992.4 L1742.8 2036 L1743.3 2008.7 L1743.7 2008.4 L1744.2 1997.8 L1744.6 1994.2 L1745.1 2005.6 L1745.5 1999.7 L1746 1999.8 L1746.4 2027.5 L1746.9 2023.8 L1747.3 1984.1 L1747.8 1996.5 L1748.2 1986.9 L1748.7 2004.3 L1749.1 2001.1 L1749.6 1995 L1750 1998.9 L1750.5 1980.4 L1750.9 1981.5 L1751.4 1985.1 L1751.8 1998.6 L1752.3 2005.8 L1752.7 2008.7 L1753.2 1980.2 L1753.6 1981.6 L1754.1 1988.3 L1754.5 1989.8 L1755 1996.3 L1755.4 1986.2 L1755.9 2005.9 L1756.3 1991 L1756.8 1998.9 L1757.2 1997.8 L1757.7 1998.8 L1758.1 2013.3 L1758.6 2010.8 L1759 2008.1 L1759.5 2005.4 L1759.9 2005.4 L1760.4 1980.7 L1760.8 1984.2 L1761.3 1983.7 L1761.7 1995.4 L1762.2 2006 L1762.6 1988.3 L1763.1 1995.1 L1763.5 2005.5 L1764 2004.2 L1764.4 1999 L1764.9 2004.2 L1765.3 2018.3 L1765.8 2014.4 L1766.2 2009.4 L1766.7 2008.6 L1767.1 2005 L1767.6 1995.3 L1768 1993.1 L1768.5 1994 L1768.9 1989 L1769.4 1998.2 L1769.8 1991.3 L1770.3 2001.4 L1770.7 1983.7 L1771.2 2001.1 L1771.6 2022.4 L1772.1 2018.4 L1772.5 2014.8 L1773 2013.3 L1773.4 2010.5 L1773.9 2001.2 L1774.3 2000.9 L1774.8 1979.4 L1775.2 1984.5 L1775.7 1985.6 L1776.1 2003.3 L1776.6 2001.1 L1777 2016.9 L1777.5 2015.2 L1777.9 2001.9 L1778.4 1985.5 L1778.8 2004.8 L1779.3 2007.5 L1779.7 1997.1 L1780.2 1995.9 L1780.6 2011.6 L1781.1 1987.6 L1781.5 2002 L1782 2014.8 L1782.4 1993 L1782.9 2012.4 L1783.3 2008.5 L1783.8 2009 L1784.2 2007.6 L1784.7 2002.4 L1785.1 2001.8 L1785.6 2024.6 L1786 2020.1 L1786.5 2015 L1786.9 2009 L1787.4 2008.5 L1787.8 2004.9 L1788.3 1996.7 L1788.7 2004.8 L1789.2 1999.7 L1789.6 1979.8 L1790.1 1984.4 L1790.5 2016.3 L1791 2006.4 L1791.4 2003.1 L1791.9 1982.1 L1792.3 2003 L1792.8 2002.1 L1793.2 2009.9 L1793.7 2001.8 L1794.1 1998.6 L1794.6 2002.4 L1795 1986.4 L1795.5 1980 L1795.9 1983.6 L1796.4 1987.8 L1796.8 1948 L1797.3 1990.8 L1797.7 1996.1 L1798.2 1994.7 L1798.6 2000.9 L1799.1 1975.2 L1799.5 1979.7 L1800 1980.9 L1800.4 1984.2 L1800.9 1990.8 L1801.3 1991.2 L1801.8 1990.3 L1802.2 2045.7 L1802.7 2013.9 L1803.1 2008.3 L1803.6 2008.4 L1804 2006.1 L1804.5 2006.9 L1804.9 1999.1 L1805.4 1994.1 L1805.8 1998.6 L1806.3 2002.4 L1806.7 1994.3 L1807.2 1998.2 L1807.6 2002 L1808.1 2025.2 L1808.5 2017.3 L1809 2000.4 L1809.4 1996.9 L1809.9 2004.1 L1810.3 1999.3 L1810.8 1993.6 L1811.2 1994.9 L1811.7 1989.7 L1812.1 1984.7 L1812.6 1989.8 L1813 1994 L1813.5 1991.8 L1813.9 1998.1 L1814.4 1990.8 L1814.8 2001.7 L1815.3 2005.8 L1815.7 2001.8 L1816.2 1997.8 L1816.6 1975.6 L1817.1 1979.9 L1817.5 1986.1 L1818 1986.6 L1818.4 1993 L1818.9 2003.8 L1819.3 1992 L1819.8 1981.9 L1820.2 1992.2 L1820.7 2015.6 L1821.1 2014.8 L1821.6 2009.9 L1822 1994 L1822.5 2002.4 L1822.9 2002.2 L1823.4 2000.1 L1823.8 2008.6 L1824.3 2003.6 L1824.7 1998.9 L1825.2 1974.8 L1825.6 1978 L1826.1 1980.1 L1826.5 1986.3 L1827 1989.3 L1827.4 1994.5 L1827.9 2003.7 L1828.3 1997.1 L1828.8 2005.9 L1829.2 2002.9 L1829.7 2004.9 L1830.1 1997.6 L1830.6 2015.6 L1831 1984.4 L1831.5 1983.5 L1831.9 1999.6 L1832.4 2015.9 L1832.8 1996.8 L1833.3 2004.7 L1833.7 2005.4 L1834.2 1999 L1834.6 1991.4 L1835.1 2016.8 L1835.5 2016.6 L1836 2009.7 L1836.4 2004.1 L1836.9 1999.2 L1837.3 2004.5 L1837.8 2002.5 L1838.2 2000.3 L1838.7 1999.4 L1839.1 2023.4 L1839.6 2019.2 L1840 2013.1 L1840.5 1994.9 L1840.9 1999 L1841.4 1989.5 L1841.8 1996.2 L1842.3 1985.9 L1842.7 1994.6 L1843.2 2002.7 L1843.6 2002.7 L1844.1 1998.6 L1844.5 2024.9 L1845 2018.4 L1845.4 2010.9 L1845.9 2002.4 L1846.3 2006.1 L1846.8 1993.3 L1847.2 1997.8 L1847.7 1987.2 L1848.1 2016.5 L1848.6 2013.7 L1849 2014.2 L1849.5 1998.7 L1849.9 2003.1 L1850.4 1987.5 L1850.8 1975.2 L1851.3 1980.4 L1851.7 1983.1 L1852.2 1989.9 L1852.6 1999.2 L1853.1 2000.6 L1853.5 2003.1 L1854 2003.6 L1854.4 2008.8 L1854.9 2006.6 L1855.3 1990.5 L1855.8 1995.7 L1856.2 1992.1 L1856.7 2015 L1857.1 2010.1 L1857.6 2010 L1858 2008.3 L1858.5 1988.7 L1858.9 1991 L1859.4 1998.8 L1859.8 1997.7 L1860.3 1997 L1860.7 1998.6 L1861.2 1994.1 L1861.6 2024.6 L1862.1 2021.3 L1862.5 2017.6 L1863 2013.8 L1863.4 1997.9 L1863.9 1908.6 L1864.3 1909 L1864.8 1982.9 L1865.2 1985.9 L1865.7 1987.6 L1866.1 1990.1 L1866.6 1991.4 L1867 1997.4 L1867.5 1997 L1867.9 2002 L1868.4 2003 L1868.8 1998.8 L1869.3 1993.5 L1869.7 1998.1 L1870.2 1998.6 L1870.6 2003.8 L1871.1 2019.2 L1871.5 2019.2 L1872 2016 L1872.4 1996.6 L1872.9 1994.2 L1873.3 1991.8 L1873.8 1998.2 L1874.2 1995.8 L1874.7 1980.7 L1875.1 1984.4 L1875.6 1987.2 L1876 2014.1 L1876.5 1996.9 L1876.9 2006.2 L1877.4 2038.9 L1877.8 2006.3 L1878.3 1983.6 L1878.7 1994.1 L1879.2 2000.6 L1879.6 2002.9 L1880.1 1985.5 L1880.5 1984.4 L1881 2007.3 L1881.4 2004 L1881.9 2005.2 L1882.3 2002.3 L1882.8 1998 L1883.2 2002.3 L1883.7 1992 L1884.1 2006.7 L1884.6 1992.4 L1885 2000.6 L1885.5 2012.8 L1885.9 2010.9 L1886.4 2011.5 L1886.8 2006.6 L1887.3 1999.2 L1887.7 1993.8 L1888.2 2000.7 L1888.6 2002.8 L1889.1 2003.6 L1889.5 2013.6 L1890 2010.2 L1890.4 2010.7 L1890.9 2007.1 L1891.3 2000.7 L1891.8 1996.2 L1892.2 2008.2 L1892.7 1994.4 L1893.1 2013.4 L1893.6 2012.5 L1894 2011.8 L1894.5 2003.7 L1894.9 2007.7 L1895.4 1998.9 L1895.8 1994.6 L1896.3 2004.3 L1896.7 1979.4 L1897.2 1986.9 L1897.6 2008.9 L1898.1 2006.4 L1898.5 1995.6 L1899 2013.8 L1899.4 1999 L1899.9 2004.1 L1900.3 1994.8 L1900.8 1998.7 L1901.2 1987.6 L1901.7 2010.6 L1902.1 2007.9 L1902.6 1991.1 L1903 1989.2 L1903.5 2016.8 L1903.9 2010.7 L1904.4 2008.3 L1904.8 2007 L1905.3 1997 L1905.7 1998.2 L1906.2 1991.9 L1906.6 1975.4 L1907.1 1980.1 L1907.5 1998.5 L1908 2001 L1908.4 2002 L1908.9 1982.6 L1909.3 1987.4 L1909.8 2000 L1910.2 1995.8 L1910.7 2009.2 L1911.1 2004 L1911.6 1998.3 L1912 1995.9 L1912.5 1994.4 L1912.9 1992.9 L1913.4 1996.7 L1913.8 2000.9 L1914.3 2002.4 L1914.7 2002.7 L1915.2 2025.1 L1915.6 2019.7 L1916.1 2014.3 L1916.5 2011.4 L1917 1986.9 L1917.4 1995.6 L1917.9 2000.1 L1918.3 2000 L1918.8 2001.7 L1919.2 1997.4 L1919.7 2001.4 L1920.1 1975.3 L1920.6 1980.7 L1921 1986.7 L1921.5 1993.2 L1921.9 1999 L1922.4 1992.3 L1922.8 1992.2 L1923.3 2003.1 L1923.7 1994.8 L1924.2 2003.1 L1924.6 2084 L1925.1 1986.5 L1925.5 1989.3 L1926 1998.3 L1926.4 1989.8 L1926.9 1998.8 L1927.3 2002 L1927.8 1995.6 L1928.2 1998.4 L1928.7 2029.4 L1929.1 2021.3 L1929.6 2017.6 L1930 2018.4 L1930.5 2011.2 L1930.9 1982.3 L1931.4 1982.2 L1931.8 1987.8 L1932.3 1989.1 L1932.7 1990.3 L1933.2 1994.5 L1933.6 1998.9 L1934.1 1998.9 L1934.5 2021.3 L1935 2016.9 L1935.4 2013.6 L1935.9 2011.4 L1936.3 2008.1 L1936.8 1998.1 L1937.2 2001.9 L1937.7 2001.4 L1938.1 1980.5 L1938.6 1980.6 L1939 1986.2 L1939.5 1986.6 L1939.9 1991.7 L1940.4 1990.2 L1940.8 1991.1 L1941.3 2001.2 L1941.7 2010 L1942.2 2001.8 L1942.6 2000.6 L1943.1 2013.5 L1943.5 1995.6 L1944 2016.8 L1944.4 2016.3 L1944.9 2015.3 L1945.3 2012.2 L1945.8 2006.3 L1946.2 2004.2 L1946.7 2000.6 L1947.1 1990.5 L1947.6 1997.7 L1948 2017.3 L1948.5 2014.4 L1948.9 2011.9 L1949.4 1998.4 L1949.8 1996.7 L1950.3 2005.8 L1950.7 2008 L1951.2 1996.6 L1951.6 2004.5 L1952.1 1994.1 L1952.5 1999.5 L1953 2003.9 L1953.4 2008.8 L1953.9 1996.5 L1954.3 1984.2 L1954.8 1984.5 L1955.2 1984.5 L1955.7 1989.9 L1956.1 1994.2 L1956.6 1993.9 L1957 1991.7 L1957.5 1975.6 L1957.9 1979.2 L1958.4 1983.1 L1958.8 1986.1 L1959.3 1989.8 L1959.7 1997.2 L1960.2 1995.1 L1960.6 2002.1 L1961.1 1988.8 L1961.5 1994.6 L1962 2016 L1962.4 2014.3 L1962.9 2012.9 L1963.3 2001 L1963.8 1994.7 L1964.2 2001 L1964.7 2009.8 L1965.1 1994.5 L1965.6 2014.4 L1966 1994.8 L1966.5 2017.5 L1966.9 2013.2 L1967.4 2009.8 L1967.8 1991 L1968.3 1985.3 L1968.7 2002.9 L1969.2 2004.2 L1969.6 2014.9 L1970.1 2011.1 L1970.5 2009.9 L1971 2000.7 L1971.4 2005 L1971.9 2001.4 L1972.3 2009.8 L1972.8 1991 L1973.2 2018.1 L1973.7 2014.6 L1974.1 2013 L1974.6 2013.3 L1975 2005 L1975.5 2013 L1975.9 1999 L1976.4 1997.3 L1976.8 1995.8 L1977.3 1993.6 L1977.7 1994.9 L1978.2 2003.2 L1978.6 1979.8 L1979.1 1982.6 L1979.5 1987.9 L1980 2004.9 L1980.4 2002.2 L1980.9 1998.1 L1981.3 2003.3 L1981.8 1998 L1982.2 1991.5 L1982.7 2008.5 L1983.1 2002 L1983.6 1992.8 L1984 1975.3 L1984.5 1979.6 L1984.9 1983.9 L1985.4 2009.5 L1985.8 2001.2 L1986.3 2004.8 L1986.7 2000.3 L1987.2 1998 L1987.6 2015.1 L1988.1 2013.6 L1988.5 2008.7 L1989 2009 L1989.4 2007 L1989.9 2004.5 L1990.3 2003.4 L1990.8 1996.6 L1991.2 1998.8 L1991.7 1985.1 L1992.1 1996.2 L1992.6 2003.4 L1993 1980.4 L1993.5 1983.8 L1993.9 1985.8 L1994.4 1991.9 L1994.8 1993.1 L1995.3 1993.3 L1995.7 2009.9 L1996.2 1999.3 L1996.6 2007 L1997.1 2014.9 L1997.5 2013.9 L1998 2011.2 L1998.4 2006.9 L1998.9 2007.7 L1999.3 2002.8 L1999.8 1975.5 L2000.2 1978.2 L2000.7 2002.2 L2001.1 1992.1 L2001.6 2002.2 L2002 2002.7 L2002.5 1997.2 L2002.9 2002.5 L2003.4 1988.9 L2003.8 2003.9 L2004.3 1989 L2004.7 1994.5 L2005.2 1995.4 L2005.6 1996.4 L2006.1 2020.2 L2006.5 2015.5 L2007 2010.3 L2007.4 2009.4 L2007.9 2005.7 L2008.3 2004.8 L2008.8 2001.4 L2009.2 2007.1 L2009.7 2000.7 L2010.1 1990.7 L2010.6 1974.8 L2011 1979.8 L2011.5 1979.8 L2011.9 1985.6 L2012.4 1990 L2012.8 1992.5 L2013.3 2003.3 L2013.7 2015.8 L2014.2 2015.7 L2014.6 2011.8 L2015.1 2008 L2015.5 2004.4 L2016 2007.2 L2016.4 1998.8 L2016.9 1986.4 L2017.3 1997.3 L2017.8 1996.2 L2018.2 2001.9 L2018.7 1994.4 L2019.1 1986.6 L2019.6 1982.7 L2020 1990.2 L2020.5 1990.1 L2020.9 1999.1 L2021.4 2003.9 L2021.8 2017.7 L2022.3 2015.5 L2022.7 2011.7 L2023.2 1996.3 L2023.6 1982.9 L2024.1 2011.3 L2024.5 1994.3 L2025 1998.8 L2025.4 2002.4 L2025.9 1990.2 L2026.3 1977 L2026.8 1980.9 L2027.2 1987.1 L2027.7 2000.9 L2028.1 2006.8 L2028.6 1986.9 L2029 2004.2 L2029.5 2000.4 L2029.9 2002.1 L2030.4 2001.9 L2030.8 2007.5 L2031.3 1997.5 L2031.7 2014.4 L2032.2 2013.5 L2032.6 2010.7 L2033.1 2009.3 L2033.5 2008 L2034 2000.4 L2034.4 2001.9 L2034.9 1998 L2035.3 1991.6 L2035.8 1993.9 L2036.2 2000.3 L2036.7 2005.1 L2037.1 2001.8 L2037.6 1983 L2038 1987.1 L2038.5 1989.3 L2038.9 1990.9 L2039.4 1992.4 L2039.8 1996.1 L2040.3 1999.4 L2040.7 1997.2 L2041.2 1995.3 L2041.6 1997.3 L2042.1 1979.2 L2042.5 1980.4 L2043 1991.1 L2043.4 2001.8 L2043.9 2000.2 L2044.3 1992.5 L2044.8 2004 L2045.2 1997.2 L2045.7 1996.8 L2046.1 2004.2 L2046.6 2013 L2047 2012.4 L2047.5 2001.8 L2047.9 1993.3 L2048.4 2014 L2048.8 1995.8 L2049.3 2006.8 L2049.7 1994.8 L2050.2 2004.3 L2050.6 2013.4 L2051.1 1982.5 L2051.5 1996.2 L2052 2002.3 L2052.4 1998.4 L2052.9 1982.5 L2053.3 1985.4 L2053.8 1987.1 L2054.2 1987.5 L2054.7 2017.5 L2055.1 2011.2 L2055.6 2008.8 L2056 1995.2 L2056.5 1999.9 L2056.9 2007.2 L2057.4 1999.8 L2057.8 1990 L2058.3 1988 L2058.7 2006.7 L2059.2 2003.8 L2059.6 1993.7 L2060.1 2004.6 L2060.5 1981.7 L2061 1982.4 L2061.4 1984.8 L2061.9 1986.9 L2062.3 1988.9 L2062.8 2003.8 L2063.2 2004.7 L2063.7 1983 L2064.1 2000.1 L2064.6 2002.2 L2065 2017.1 L2065.5 2013 L2065.9 1996.9 L2066.4 1999.2 L2066.8 2004.8 L2067.3 1996.1 L2067.7 2006.5 L2068.2 1982.6 L2068.6 1986.9 L2069.1 1986.8 L2069.5 1993.2 L2070 1994.5 L2070.4 1988.6 L2070.9 2006.1 L2071.3 1973.1 L2071.8 1977.7 L2072.2 1980.5 L2072.7 1985.8 L2073.1 1992.6 L2073.6 1998.3 L2074 2002.5 L2074.5 2002.4 L2074.9 1996.8 L2075.4 2012.1 L2075.8 2009.7 L2076.3 2008 L2076.7 1999.1 L2077.2 1997.2 L2077.6 2000.7 L2078.1 1978.8 L2078.5 1978.7 L2079 1983.6 L2079.4 1995.1 L2079.9 1995 L2080.3 1991.5 L2080.8 2003.1 L2081.2 1990.5 L2081.7 2017.9 L2082.1 2015.9 L2082.6 2012.2 L2083 2010.2 L2083.5 2006.7 L2083.9 1994.2 L2084.4 1999.3 L2084.8 2000 L2085.3 1987.7 L2085.7 1995.1 L2086.2 2000.1 L2086.6 1996 L2087.1 1999.5 L2087.5 2003.8 L2088 1980.5 L2088.4 1983.4 L2088.9 1986.8 L2089.3 1989.4 L2089.8 1989.8 L2090.2 1997.1 L2090.7 1997 L2091.1 1997.8 L2091.6 1987.8 L2092 1996.8 L2092.5 1998.8 L2092.9 1992.7 L2093.4 1987.2 L2093.8 1987.1 L2094.3 1991 L2094.7 2012.5 L2095.2 1982.1 L2095.6 2025.2 L2096.1 2020.1 L2096.5 2005.4 L2097 2016.3 L2097.4 1982.7 L2097.9 1999.8 L2098.3 2002.4 L2098.8 1997 L2099.2 2002.6 L2099.7 1984.4 L2100.1 2004.5 L2100.6 2001.4 L2101 2014.4 L2101.5 2012.8 L2101.9 2003.1 L2102.4 1995.8 L2102.8 2000.5 L2103.3 1995.7 L2103.7 1984.4 L2104.2 1998.8 L2104.6 2000.3 L2105.1 2003.9 L2105.5 1993.3 L2106 1998.8 L2106.4 1982 L2106.9 1983.5 L2107.3 1984.7 L2107.8 2011.9 L2108.2 1993.1 L2108.7 1986.5 L2109.1 2004.6 L2109.6 2008.9 L2110 2005 L2110.5 2004.3 L2110.9 1995 L2111.4 1987.7 L2111.8 1987.7 L2112.3 1992.6 L2112.7 1990.4 L2113.2 1995.4 L2113.6 2015.2 L2114.1 2011.5 L2114.5 2021.3 L2115 2020.5 L2115.4 2000.5 L2115.9 1994.1 L2116.3 2007.5 L2116.8 1998.5 L2117.2 1991.9 L2117.7 2007.5 L2118.1 2013.1 L2118.6 2013.6 L2119 2010.6 L2119.5 2009.8 L2119.9 2002.8 L2120.4 2001.7 L2120.8 1987 L2121.3 1979.7 L2121.7 1982.6 L2122.2 1994.1 L2122.6 1998.9 L2123.1 1999.4 L2123.5 2002.6 L2124 1999.8 L2124.4 1993.8 L2124.9 1994.4 L2125.3 1985.2 L2125.8 1997.9 L2126.2 1977.7 L2126.7 1978.7 L2127.1 1998.2 L2127.6 1997.9 L2128 2005.1 L2128.5 2019.2 L2128.9 2019.2 L2129.4 2002.8 L2129.8 2000.4 L2130.3 2007.5 L2130.7 1995.3 L2131.2 1996.7 L2131.6 1993.7 L2132.1 1993.8 L2132.5 2009.1 L2133 2010.4 L2133.4 1999.1 L2133.9 2002.7 L2134.3 2006.6 L2134.8 2004.2 L2135.2 1984.8 L2135.7 1985.2 L2136.1 1990.1 L2136.6 1989.4 L2137 2008.3 L2137.5 1999.7 L2137.9 1993.4 L2138.4 1996.7 L2138.8 1994.7 L2139.3 1993.4 L2139.7 2008.8 L2140.2 1978 L2140.6 1980.6 L2141.1 2013.1 L2141.5 2006.7 L2142 2001.2 L2142.4 1995 L2142.9 2001.7 L2143.3 2009.5 L2143.8 2003 L2144.2 2007.2 L2144.7 1999.6 L2145.1 2002.4 L2145.6 1978.9 L2146 1980.6 L2146.5 1983.8 L2146.9 1989.7 L2147.4 1998.6 L2147.8 2000.6 L2148.3 1995.3 L2148.7 1997 L2149.2 2004.1 L2149.6 2012 L2150 1977.3 L2150.5 1982.3 L2150.9 1984.3 L2151.4 2011.5 L2151.8 1999.5 L2152.3 1998.8 L2152.7 1991.7 L2153.2 2019.1 L2153.6 2015.6 L2154.1 2013.5 L2154.5 2012.2 L2155 2003.9 L2155.4 2000.8 L2155.9 1993.5 L2156.3 2008.3 L2156.8 1976.6 L2157.2 1979 L2157.7 1984.6 L2158.1 1987.2 L2158.6 1990.6 L2159 1995.2 L2159.5 1975.1 L2159.9 1980.3 L2160.4 1983.7 L2160.8 2008.3 L2161.3 2003.4 L2161.7 1998 L2162.2 1999.8 L2162.6 1998.2 L2163.1 2013.7 L2163.5 2011.5 L2164 2009.5 L2164.4 1983.4 L2164.9 1998.9 L2165.3 1993.2 L2165.8 2003.2 L2166.2 1995 L2166.7 2000 L2167.1 1982.3 L2167.6 1989.7 L2168 1991.7 L2168.5 1989.8 L2168.9 1983.4 L2169.4 1986.8 L2169.8 2001.4 L2170.3 1994.9 L2170.7 1986.9 L2171.2 1989.4 L2171.6 2003 L2172.1 1994 L2172.5 2020.9 L2173 2017.2 L2173.4 2016.3 L2173.9 2012.6 L2174.3 2007.2 L2174.8 2004.7 L2175.2 2000.2 L2175.7 2010.7 L2176.1 1981.3 L2176.6 1984.7 L2177 1987 L2177.5 1990 L2177.9 1999.3 L2178.4 1995.7 L2178.8 1990.4 L2179.3 1995.5 L2179.7 1989 L2180.2 2016.1 L2180.6 2015.7 L2181.1 2008.4 L2181.5 2009.9 L2182 2008.3 L2182.4 2004.5 L2182.9 2011 L2183.3 1973.9 L2183.8 1981.7 L2184.2 1985.5 L2184.7 1987 L2185.1 2001.8 L2185.6 2020.7 L2186 2021.2 L2186.5 2012.8 L2186.9 2009.7 L2187.4 2008.1 L2187.8 1989.9 L2188.3 1979.9 L2188.7 1983.4 L2189.2 1985.7 L2189.6 2000.7 L2190.1 1999.2 L2190.5 2014.2 L2191 2014 L2191.4 2005.2 L2191.9 2004 L2192.3 1999.7 L2192.8 1996.9 L2193.2 2009.1 L2193.7 1995.1 L2194.1 2003.2 L2194.6 2006.5 L2195 1997.3 L2195.5 2004.4 L2195.9 1991.7 L2196.4 1984.7 L2196.8 1984.9 L2197.3 1988.7 L2197.7 2003.4 L2198.2 1993.2 L2198.6 2007.3 L2199.1 1994.6 L2199.5 1997.9 L2200 2019.8 L2200.4 2016.7 L2200.9 2013.8 L2201.3 1995.4 L2201.8 2003.4 L2202.2 1999 L2202.7 2000.4 L2203.1 1981.1 L2203.6 2006.5 L2204 1999.2 L2204.5 1987.4 L2204.9 1999.6 L2205.4 2018.1 L2205.8 2017.3 L2206.3 2016.1 L2206.7 2009.3 L2207.2 2009.6 L2207.6 2000.9 L2208.1 1998 L2208.5 2003.4 L2209 1996.6 L2209.4 1991.7 L2209.9 2006.1 L2210.3 2004.9 L2210.8 2009 L2211.2 2004.6 L2211.7 1975.3 L2212.1 1978.9 L2212.6 1979.7 L2213 1984.9 L2213.5 1993.7 L2213.9 2002.8 L2214.4 2001.1 L2214.8 1997.2 L2215.3 2000.1 L2215.7 1998.1 L2216.2 2016.2 L2216.6 2012.2 L2217.1 2005.2 L2217.5 1994.5 L2218 1989.2 L2218.4 2008.3 L2218.9 1999.7 L2219.3 2006.2 L2219.8 1988.3 L2220.2 1996.9 L2220.7 1999.2 L2221.1 1989.6 L2221.6 2012.4 L2222 2010.8 L2222.5 2007.4 L2222.9 2006.8 L2223.4 2004.3 L2223.8 2003.1 L2224.3 2018 L2224.7 2014.9 L2225.2 2011.6 L2225.6 2007.7 L2226.1 2004.1 L2226.5 2004.2 L2227 2002.6 L2227.4 1981.1 L2227.9 1981.4 L2228.3 1986.7 L2228.8 1986.5 L2229.2 1991.5 L2229.7 1993.4 L2230.1 2002.1 L2230.6 1999.1 L2231 2004.8 L2231.5 2024.3 L2231.9 2020.3 L2232.4 2014.4 L2232.8 2012.3 L2233.3 2010.1 L2233.7 2004.3 L2234.2 2012.4 L2234.6 2008.9 L2235.1 2004.1 L2235.5 2002.8 L2236 2010.5 L2236.4 1997.8 L2236.9 1977.1 L2237.3 1980.2 L2237.8 1982.3 L2238.2 2007.7 L2238.7 2002.5 L2239.1 2001.8 L2239.6 1997.7 L2240 2000.1 L2240.5 1989.7 L2240.9 2010.1 L2241.4 2009.2 L2241.8 1991.8 L2242.3 1994.1 L2242.7 1993.6 L2243.2 2004.6 L2243.6 2005.9 L2244.1 1990.2 L2244.5 2005 L2245 2004.8 L2245.4 2020.4 L2245.9 2019.7 L2246.3 2013.1 L2246.8 2013 L2247.2 2001.2 L2247.7 1996.7 L2248.1 1985.8 L2248.6 1979.8 L2249 1984.6 L2249.5 1986 L2249.9 1989.9 L2250.4 1992.4 L2250.8 1993.4 L2251.3 1995.5 L2251.7 2007.4 L2252.2 2004.5 L2252.6 2002.9 L2253.1 2001.1 L2253.5 1988.9 L2254 1995.6 L2254.4 2021.7 L2254.9 2021.3 L2255.3 2020.3 L2255.8 2012.9 L2256.2 1994.4 L2256.7 1992.2 L2257.1 1985.6 L2257.6 2002.9 L2258 2018.6 L2258.5 2016.8 L2258.9 2011.6 L2259.4 2011.6 L2259.8 2000.1 L2260.3 2006.9 L2260.7 2000.9 L2261.2 2005 L2261.6 2008.6 L2262.1 1975.7 L2262.5 1978.9 L2263 1982.1 L2263.4 1986.8 L2263.9 1989 L2264.3 1996.4 L2264.8 1989.7 L2265.2 1998.3 L2265.7 2002.8 L2266.1 1974.8 L2266.6 1978.3 L2267 1980.8 L2267.5 2001.4 L2267.9 2008.6 L2268.4 1990.4 L2268.8 2005.9 L2269.3 2012.5 L2269.7 2012 L2270.2 1997.6 L2270.6 2000.7 L2271.1 1998 L2271.5 2005.5 L2272 2005.7 L2272.4 1978.9 L2272.9 1982 L2273.3 1986 L2273.8 1987.6 L2274.2 1991.4 L2274.7 1995.8 L2275.1 2009.6 L2275.6 1978.8 L2276 1979.5 L2276.5 1984.7 L2276.9 1989 L2277.4 1990.4 L2277.8 2001.8 L2278.3 2006.7 L2278.7 2007.2 L2279.2 2015.9 L2279.6 2013 L2280.1 1990.8 L2280.5 2000.6 L2281 2001.5 L2281.4 2016 L2283 1983 L2288 1943 L2291.4 1876.4 L2294.7 1826.4 L2298 1793.1 L2301.4 1726.5 L2304.7 1686.5 L2308 1626.6 L2313 1563.3" fill="none" stroke="#0000ff" stroke-width="4.3" stroke-linejoin="round" stroke-linecap="butt" clip-path="url(#clf)"/>
<g stroke="#000" stroke-width="3.2" stroke-linecap="butt"><rect x="495.7" y="29.3" width="772.1" height="563.9" fill="none" stroke="#000" stroke-width="3.2" stroke-linejoin="miter" stroke-linecap="square"/><line x1="481.1" y1="593.2" x2="495.7" y2="593.2"/><line x1="481.1" y1="311.2" x2="495.7" y2="311.2"/><line x1="481.1" y1="29.3" x2="495.7" y2="29.3"/><line x1="528.2" y1="593.2" x2="528.2" y2="607.8"/><line x1="754.8" y1="593.2" x2="754.8" y2="607.8"/><line x1="981.3" y1="593.2" x2="981.3" y2="607.8"/><line x1="1207.9" y1="593.2" x2="1207.9" y2="607.8"/></g>
<g fill="#000"><text x="441.2" y="605.9" font-size="39.3" textLength="21.9" lengthAdjust="spacingAndGlyphs">0</text><text x="407.3" y="323.9" font-size="39.3" textLength="55.9" lengthAdjust="spacingAndGlyphs">0.5</text><text x="405.6" y="42" font-size="39.3" textLength="57.6" lengthAdjust="spacingAndGlyphs">1.0</text><text x="517.2" y="651.2" font-size="39.3" textLength="22.5" lengthAdjust="spacingAndGlyphs">0</text><text x="721.3" y="651.2" font-size="39.3" textLength="66.5" lengthAdjust="spacingAndGlyphs">500</text><text x="935.4" y="651.2" font-size="39.3" textLength="89.9" lengthAdjust="spacingAndGlyphs">1000</text><text x="1162" y="651.2" font-size="39.3" textLength="89.9" lengthAdjust="spacingAndGlyphs">1500</text><text x="766.8" y="711.9" font-size="40.6" textLength="125.7" lengthAdjust="spacingAndGlyphs">Round</text><text x="910.7" y="711.9" font-size="40.6" textLength="87.9" lengthAdjust="spacingAndGlyphs">trips</text><text transform="translate(360.1 501.5) rotate(-90)" x="0" y="0" font-size="40.6" textLength="381.2" lengthAdjust="spacingAndGlyphs">Intensity/arb. units</text><text x="516.9" y="84.3" font-size="42" textLength="52.8" lengthAdjust="spacingAndGlyphs">(a)</text></g>
<g stroke="#000" stroke-width="3.2" stroke-linecap="butt"><rect x="1576.7" y="29.3" width="772" height="563.9" fill="none" stroke="#000" stroke-width="3.2" stroke-linejoin="miter" stroke-linecap="square"/><line x1="1562.1" y1="593.2" x2="1576.7" y2="593.2"/><line x1="1562.1" y1="311.2" x2="1576.7" y2="311.2"/><line x1="1562.1" y1="29.3" x2="1576.7" y2="29.3"/><line x1="1609.2" y1="593.2" x2="1609.2" y2="607.8"/><line x1="1835.8" y1="593.2" x2="1835.8" y2="607.8"/><line x1="2062.3" y1="593.2" x2="2062.3" y2="607.8"/><line x1="2288.9" y1="593.2" x2="2288.9" y2="607.8"/></g>
<g fill="#000"><text x="1522.2" y="605.9" font-size="39.3" textLength="21.9" lengthAdjust="spacingAndGlyphs">0</text><text x="1488.3" y="323.9" font-size="39.3" textLength="55.9" lengthAdjust="spacingAndGlyphs">0.5</text><text x="1486.6" y="42" font-size="39.3" textLength="57.6" lengthAdjust="spacingAndGlyphs">1.0</text><text x="1598.2" y="651.2" font-size="39.3" textLength="22.5" lengthAdjust="spacingAndGlyphs">0</text><text x="1802.3" y="651.2" font-size="39.3" textLength="66.5" lengthAdjust="spacingAndGlyphs">500</text><text x="2016.4" y="651.2" font-size="39.3" textLength="89.9" lengthAdjust="spacingAndGlyphs">1000</text><text x="2243" y="651.2" font-size="39.3" textLength="89.9" lengthAdjust="spacingAndGlyphs">1500</text><text x="1847.8" y="711.9" font-size="40.6" textLength="125.7" lengthAdjust="spacingAndGlyphs">Round</text><text x="1991.6" y="711.9" font-size="40.6" textLength="87.9" lengthAdjust="spacingAndGlyphs">trips</text><text transform="translate(1441.1 501.5) rotate(-90)" x="0" y="0" font-size="40.6" textLength="381.2" lengthAdjust="spacingAndGlyphs">Intensity/arb. units</text><text x="1597.9" y="84.3" font-size="42" textLength="55" lengthAdjust="spacingAndGlyphs">(b)</text></g>
<g stroke="#000" stroke-width="3.2" stroke-linecap="butt"><rect x="495.7" y="778.3" width="772.1" height="563.9" fill="none" stroke="#000" stroke-width="3.2" stroke-linejoin="miter" stroke-linecap="square"/><line x1="481.1" y1="1342.2" x2="495.7" y2="1342.2"/><line x1="481.1" y1="1060.2" x2="495.7" y2="1060.2"/><line x1="481.1" y1="778.3" x2="495.7" y2="778.3"/><line x1="528.2" y1="1342.2" x2="528.2" y2="1356.8"/><line x1="754.8" y1="1342.2" x2="754.8" y2="1356.8"/><line x1="981.3" y1="1342.2" x2="981.3" y2="1356.8"/><line x1="1207.9" y1="1342.2" x2="1207.9" y2="1356.8"/></g>
<g fill="#000"><text x="441.2" y="1354.9" font-size="39.3" textLength="21.9" lengthAdjust="spacingAndGlyphs">0</text><text x="407.3" y="1073" font-size="39.3" textLength="55.9" lengthAdjust="spacingAndGlyphs">0.5</text><text x="405.6" y="791" font-size="39.3" textLength="57.6" lengthAdjust="spacingAndGlyphs">1.0</text><text x="517.2" y="1400.2" font-size="39.3" textLength="22.5" lengthAdjust="spacingAndGlyphs">0</text><text x="721.3" y="1400.2" font-size="39.3" textLength="66.5" lengthAdjust="spacingAndGlyphs">500</text><text x="935.4" y="1400.2" font-size="39.3" textLength="89.9" lengthAdjust="spacingAndGlyphs">1000</text><text x="1162" y="1400.2" font-size="39.3" textLength="89.9" lengthAdjust="spacingAndGlyphs">1500</text><text x="766.8" y="1460.9" font-size="40.6" textLength="125.7" lengthAdjust="spacingAndGlyphs">Round</text><text x="910.7" y="1460.9" font-size="40.6" textLength="87.9" lengthAdjust="spacingAndGlyphs">trips</text><text transform="translate(360.1 1250.5) rotate(-90)" x="0" y="0" font-size="40.6" textLength="381.2" lengthAdjust="spacingAndGlyphs">Intensity/arb. units</text><text x="517.2" y="833.3" font-size="42" textLength="50.4" lengthAdjust="spacingAndGlyphs">(c)</text></g>
<g stroke="#000" stroke-width="3.2" stroke-linecap="butt"><rect x="1570" y="778.3" width="772.1" height="563.9" fill="none" stroke="#000" stroke-width="3.2" stroke-linejoin="miter" stroke-linecap="square"/><line x1="1555.4" y1="1342.2" x2="1570" y2="1342.2"/><line x1="1555.4" y1="1060.2" x2="1570" y2="1060.2"/><line x1="1555.4" y1="778.3" x2="1570" y2="778.3"/><line x1="1601.9" y1="1342.2" x2="1601.9" y2="1356.8"/><line x1="1828.5" y1="1342.2" x2="1828.5" y2="1356.8"/><line x1="2055" y1="1342.2" x2="2055" y2="1356.8"/><line x1="2281.6" y1="1342.2" x2="2281.6" y2="1356.8"/></g>
<g fill="#000"><text x="1515.5" y="1354.9" font-size="39.3" textLength="21.9" lengthAdjust="spacingAndGlyphs">0</text><text x="1481.6" y="1073" font-size="39.3" textLength="55.9" lengthAdjust="spacingAndGlyphs">0.5</text><text x="1479.9" y="791" font-size="39.3" textLength="57.6" lengthAdjust="spacingAndGlyphs">1.0</text><text x="1590.9" y="1400.2" font-size="39.3" textLength="22.5" lengthAdjust="spacingAndGlyphs">0</text><text x="1795" y="1400.2" font-size="39.3" textLength="66.5" lengthAdjust="spacingAndGlyphs">500</text><text x="2009.1" y="1400.2" font-size="39.3" textLength="89.9" lengthAdjust="spacingAndGlyphs">1000</text><text x="2235.7" y="1400.2" font-size="39.3" textLength="89.9" lengthAdjust="spacingAndGlyphs">1500</text><text x="1841.1" y="1460.9" font-size="40.6" textLength="125.7" lengthAdjust="spacingAndGlyphs">Round</text><text x="1985" y="1460.9" font-size="40.6" textLength="87.9" lengthAdjust="spacingAndGlyphs">trips</text><text transform="translate(1434 1221.8) rotate(-90)" x="0" y="0" font-size="40.6" textLength="324.1" lengthAdjust="spacingAndGlyphs">Phase/arb. units</text><text x="1630" y="833.3" font-size="42" textLength="55" lengthAdjust="spacingAndGlyphs">(d)</text></g>
<g stroke="#000" stroke-width="3.2" stroke-linecap="butt"><rect x="495.7" y="1518.1" width="772.1" height="564.2" fill="none" stroke="#000" stroke-width="3.2" stroke-linejoin="miter" stroke-linecap="square"/><line x1="481.1" y1="2082.3" x2="495.7" y2="2082.3"/><line x1="481.1" y1="1800.2" x2="495.7" y2="1800.2"/><line x1="481.1" y1="1518.1" x2="495.7" y2="1518.1"/><line x1="528.2" y1="2082.3" x2="528.2" y2="2096.9"/><line x1="754.8" y1="2082.3" x2="754.8" y2="2096.9"/><line x1="981.3" y1="2082.3" x2="981.3" y2="2096.9"/><line x1="1207.9" y1="2082.3" x2="1207.9" y2="2096.9"/></g>
<g fill="#000"><text x="441.2" y="2095" font-size="39.3" textLength="21.9" lengthAdjust="spacingAndGlyphs">0</text><text x="407.3" y="1812.9" font-size="39.3" textLength="55.9" lengthAdjust="spacingAndGlyphs">0.5</text><text x="405.6" y="1530.8" font-size="39.3" textLength="57.6" lengthAdjust="spacingAndGlyphs">1.0</text><text x="517.2" y="2140.3" font-size="39.3" textLength="22.5" lengthAdjust="spacingAndGlyphs">0</text><text x="721.3" y="2140.3" font-size="39.3" textLength="66.5" lengthAdjust="spacingAndGlyphs">500</text><text x="935.4" y="2140.3" font-size="39.3" textLength="89.9" lengthAdjust="spacingAndGlyphs">1000</text><text x="1162" y="2140.3" font-size="39.3" textLength="89.9" lengthAdjust="spacingAndGlyphs">1500</text><text x="766.8" y="2201" font-size="40.6" textLength="125.7" lengthAdjust="spacingAndGlyphs">Round</text><text x="910.7" y="2201" font-size="40.6" textLength="87.9" lengthAdjust="spacingAndGlyphs">trips</text><text transform="translate(360.1 1961.7) rotate(-90)" x="0" y="0" font-size="40.6" textLength="324.1" lengthAdjust="spacingAndGlyphs">Phase/arb. units</text><text x="516.6" y="1573.1" font-size="42" textLength="50.4" lengthAdjust="spacingAndGlyphs">(e)</text></g>
<g stroke="#000" stroke-width="3.2" stroke-linecap="butt"><rect x="1576.7" y="1518.1" width="772" height="564.2" fill="none" stroke="#000" stroke-width="3.2" stroke-linejoin="miter" stroke-linecap="square"/><line x1="1562.1" y1="2082.3" x2="1576.7" y2="2082.3"/><line x1="1562.1" y1="1800.2" x2="1576.7" y2="1800.2"/><line x1="1562.1" y1="1518.1" x2="1576.7" y2="1518.1"/><line x1="1609.2" y1="2082.3" x2="1609.2" y2="2096.9"/><line x1="1835.8" y1="2082.3" x2="1835.8" y2="2096.9"/><line x1="2062.3" y1="2082.3" x2="2062.3" y2="2096.9"/><line x1="2288.9" y1="2082.3" x2="2288.9" y2="2096.9"/></g>
<g fill="#000"><text x="1522.2" y="2095" font-size="39.3" textLength="21.9" lengthAdjust="spacingAndGlyphs">0</text><text x="1488.3" y="1812.9" font-size="39.3" textLength="55.9" lengthAdjust="spacingAndGlyphs">0.5</text><text x="1486.6" y="1530.8" font-size="39.3" textLength="57.6" lengthAdjust="spacingAndGlyphs">1.0</text><text x="1598.2" y="2140.3" font-size="39.3" textLength="22.5" lengthAdjust="spacingAndGlyphs">0</text><text x="1802.3" y="2140.3" font-size="39.3" textLength="66.5" lengthAdjust="spacingAndGlyphs">500</text><text x="2016.4" y="2140.3" font-size="39.3" textLength="89.9" lengthAdjust="spacingAndGlyphs">1000</text><text x="2243" y="2140.3" font-size="39.3" textLength="89.9" lengthAdjust="spacingAndGlyphs">1500</text><text x="1847.8" y="2201" font-size="40.6" textLength="125.7" lengthAdjust="spacingAndGlyphs">Round</text><text x="1991.6" y="2201" font-size="40.6" textLength="87.9" lengthAdjust="spacingAndGlyphs">trips</text><text transform="translate(1441.1 1961.7) rotate(-90)" x="0" y="0" font-size="40.6" textLength="324.1" lengthAdjust="spacingAndGlyphs">Phase/arb. units</text><text x="1637" y="1573.1" font-size="42" textLength="46.4" lengthAdjust="spacingAndGlyphs">(f)</text></g>
</svg>
</body></html>
